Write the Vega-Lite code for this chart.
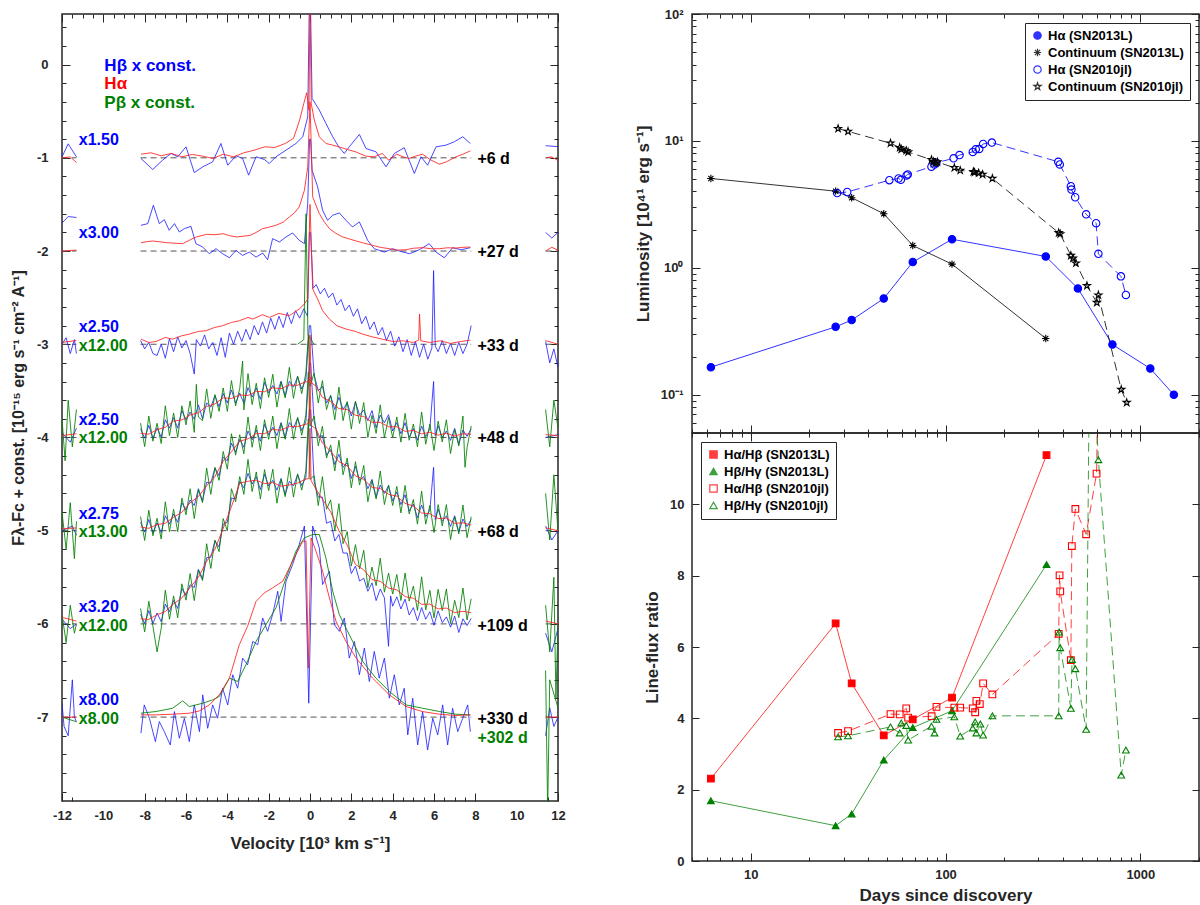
{
"$schema":"https://vega.github.io/schema/vega-lite/v6.json",
"padding":{"left":9,"top":7,"right":0,"bottom":0},
"background":"white",
"config":{
 "view":{"stroke":"#262626","strokeWidth":1.5},
 "axis":{"domain":false,"grid":false,"labelFont":"Liberation Sans","labelFontWeight":"bold","labelFontSize":13,"labelColor":"#262626","titleFont":"Liberation Sans","titleFontWeight":"bold","titleFontSize":17,"titleColor":"#262626","tickColor":"#262626","tickWidth":1,"labelOverlap":false,"labelFlush":false,"labelBound":false},
 "legend":{"labelFont":"Liberation Sans","labelFontWeight":"bold","labelFontSize":13,"labelColor":"#000000","strokeColor":"#262626","fillColor":"white","padding":6,"rowPadding":3,"symbolSize":55,"symbolStrokeWidth":1.2,"labelLimit":300}
},
"datasets":{
"spec":[
{"s":"b6","x":-8.18,"y":-1.007},{"s":"b6","x":-7.61,"y":-1.125},{"s":"b6","x":-7.13,"y":-1.025},{"s":"b6","x":-6.73,"y":-0.953},{"s":"b6","x":-6.4,"y":-0.989},{"s":"b6","x":-6.0,"y":-0.882},{"s":"b6","x":-5.6,"y":-1.158},{"s":"b6","x":-5.19,"y":-1.097},{"s":"b6","x":-4.71,"y":-1.043},{"s":"b6","x":-4.31,"y":-0.846},{"s":"b6","x":-3.98,"y":-1.079},{"s":"b6","x":-3.58,"y":-0.978},{"s":"b6","x":-3.26,"y":-1.007},{"s":"b6","x":-2.97,"y":-1.186},{"s":"b6","x":-2.61,"y":-0.989},{"s":"b6","x":-2.21,"y":-1.018},{"s":"b6","x":-1.97,"y":-1.061},{"s":"b6","x":-1.65,"y":-0.989},{"s":"b6","x":-1.16,"y":-0.918},{"s":"b6","x":-0.68,"y":-0.846},{"s":"b6","x":-0.35,"y":-0.774},{"s":"b6","x":-0.11,"y":-0.559},{"s":"b6","x":-0.03,"y":0.7},{"s":"b6","x":0.02,"y":0.7},{"s":"b6","x":0.1,"y":-0.362},{"s":"b6","x":0.45,"y":-0.487},{"s":"b6","x":0.77,"y":-0.631},{"s":"b6","x":1.1,"y":-0.774},{"s":"b6","x":1.39,"y":-0.882},{"s":"b6","x":1.66,"y":-0.953},{"s":"b6","x":1.9,"y":-0.882},{"s":"b6","x":2.39,"y":-0.749},{"s":"b6","x":2.71,"y":-0.9},{"s":"b6","x":3.19,"y":-0.935},{"s":"b6","x":3.68,"y":-1.097},{"s":"b6","x":4.08,"y":-0.953},{"s":"b6","x":4.56,"y":-0.892},{"s":"b6","x":5.05,"y":-1.168},{"s":"b6","x":5.37,"y":-0.989},{"s":"b6","x":5.69,"y":-1.079},{"s":"b6","x":6.1,"y":-0.882},{"s":"b6","x":6.58,"y":-0.864},{"s":"b6","x":6.98,"y":-0.828},{"s":"b6","x":7.39,"y":-0.774},{"s":"b6","x":7.76,"y":-0.846},
{"s":"r6","x":-8.18,"y":-0.961},{"s":"r6","x":-7.7,"y":-0.946},{"s":"r6","x":-7.2,"y":-0.978},{"s":"r6","x":-6.7,"y":-0.953},{"s":"r6","x":-6.2,"y":-0.989},{"s":"r6","x":-5.7,"y":-0.964},{"s":"r6","x":-5.2,"y":-0.982},{"s":"r6","x":-4.7,"y":-1.007},{"s":"r6","x":-4.2,"y":-0.961},{"s":"r6","x":-3.7,"y":-0.989},{"s":"r6","x":-3.2,"y":-0.946},{"s":"r6","x":-2.7,"y":-0.918},{"s":"r6","x":-2.2,"y":-0.882},{"s":"r6","x":-1.7,"y":-0.889},{"s":"r6","x":-1.2,"y":-0.846},{"s":"r6","x":-0.8,"y":-0.792},{"s":"r6","x":-0.5,"y":-0.595},{"s":"r6","x":-0.3,"y":-0.416},{"s":"r6","x":-0.16,"y":-0.301},{"s":"r6","x":-0.05,"y":-0.49},{"s":"r6","x":0.0,"y":0.7},{"s":"r6","x":0.06,"y":-0.42},{"s":"r6","x":0.21,"y":-0.595},{"s":"r6","x":0.45,"y":-0.774},{"s":"r6","x":0.77,"y":-0.846},{"s":"r6","x":1.1,"y":-0.864},{"s":"r6","x":1.4,"y":-0.882},{"s":"r6","x":1.8,"y":-0.91},{"s":"r6","x":2.2,"y":-0.935},{"s":"r6","x":2.7,"y":-0.982},{"s":"r6","x":3.1,"y":-0.989},{"s":"r6","x":3.5,"y":-0.953},{"s":"r6","x":3.8,"y":-1.025},{"s":"r6","x":4.2,"y":-0.961},{"s":"r6","x":4.5,"y":-0.989},{"s":"r6","x":4.8,"y":-1.007},{"s":"r6","x":5.1,"y":-0.982},{"s":"r6","x":5.45,"y":-0.961},{"s":"r6","x":5.8,"y":-1.018},{"s":"r6","x":6.26,"y":-1.068},{"s":"r6","x":6.6,"y":-1.043},{"s":"r6","x":7.06,"y":-0.989},{"s":"r6","x":7.4,"y":-0.961},{"s":"r6","x":7.76,"y":-0.925},
{"s":"b27","x":-8.18,"y":-1.724},{"s":"b27","x":-7.85,"y":-1.706},{"s":"b27","x":-7.58,"y":-1.509},{"s":"b27","x":-7.29,"y":-1.706},{"s":"b27","x":-7.05,"y":-1.663},{"s":"b27","x":-6.81,"y":-1.778},{"s":"b27","x":-6.56,"y":-1.706},{"s":"b27","x":-6.32,"y":-1.796},{"s":"b27","x":-6.08,"y":-1.76},{"s":"b27","x":-5.76,"y":-1.735},{"s":"b27","x":-5.52,"y":-1.921},{"s":"b27","x":-5.19,"y":-1.957},{"s":"b27","x":-4.87,"y":-2.029},{"s":"b27","x":-4.55,"y":-1.975},{"s":"b27","x":-4.23,"y":-2.029},{"s":"b27","x":-3.9,"y":-2.072},{"s":"b27","x":-3.58,"y":-1.993},{"s":"b27","x":-3.26,"y":-2.047},{"s":"b27","x":-2.94,"y":-2.011},{"s":"b27","x":-2.61,"y":-2.065},{"s":"b27","x":-2.29,"y":-2.022},{"s":"b27","x":-2.05,"y":-2.093},{"s":"b27","x":-1.81,"y":-1.867},{"s":"b27","x":-1.48,"y":-1.903},{"s":"b27","x":-1.16,"y":-1.849},{"s":"b27","x":-0.84,"y":-1.806},{"s":"b27","x":-0.52,"y":-1.885},{"s":"b27","x":-0.27,"y":-1.921},{"s":"b27","x":-0.11,"y":-1.491},{"s":"b27","x":-0.02,"y":-0.8},{"s":"b27","x":0.03,"y":-0.8},{"s":"b27","x":0.1,"y":-1.133},{"s":"b27","x":0.37,"y":-1.312},{"s":"b27","x":0.61,"y":-1.563},{"s":"b27","x":0.85,"y":-1.67},{"s":"b27","x":1.1,"y":-1.616},{"s":"b27","x":1.42,"y":-1.591},{"s":"b27","x":1.74,"y":-1.67},{"s":"b27","x":2.06,"y":-1.742},{"s":"b27","x":2.39,"y":-1.688},{"s":"b27","x":2.79,"y":-1.885},{"s":"b27","x":3.11,"y":-1.975},{"s":"b27","x":3.6,"y":-2.011},{"s":"b27","x":4.0,"y":-1.975},{"s":"b27","x":4.32,"y":-2.0},{"s":"b27","x":4.81,"y":-2.029},{"s":"b27","x":5.29,"y":-1.986},{"s":"b27","x":5.77,"y":-1.921},{"s":"b27","x":6.1,"y":-2.011},{"s":"b27","x":6.5,"y":-2.072},{"s":"b27","x":6.9,"y":-1.964},{"s":"b27","x":7.31,"y":-1.986},{"s":"b27","x":7.76,"y":-1.964},
{"s":"r27","x":-8.18,"y":-1.91},{"s":"r27","x":-7.9,"y":-1.9},{"s":"r27","x":-7.61,"y":-1.892},{"s":"r27","x":-7.3,"y":-1.9},{"s":"r27","x":-6.97,"y":-1.91},{"s":"r27","x":-6.6,"y":-1.915},{"s":"r27","x":-6.16,"y":-1.921},{"s":"r27","x":-5.8,"y":-1.88},{"s":"r27","x":-5.5,"y":-1.849},{"s":"r27","x":-5.0,"y":-1.821},{"s":"r27","x":-4.6,"y":-1.825},{"s":"r27","x":-4.2,"y":-1.814},{"s":"r27","x":-3.9,"y":-1.835},{"s":"r27","x":-3.55,"y":-1.849},{"s":"r27","x":-3.2,"y":-1.84},{"s":"r27","x":-2.9,"y":-1.832},{"s":"r27","x":-2.6,"y":-1.8},{"s":"r27","x":-2.3,"y":-1.76},{"s":"r27","x":-2.0,"y":-1.745},{"s":"r27","x":-1.65,"y":-1.724},{"s":"r27","x":-1.3,"y":-1.69},{"s":"r27","x":-1.0,"y":-1.634},{"s":"r27","x":-0.75,"y":-1.59},{"s":"r27","x":-0.52,"y":-1.527},{"s":"r27","x":-0.27,"y":-1.348},{"s":"r27","x":-0.11,"y":-1.097},{"s":"r27","x":0.0,"y":-0.4},{"s":"r27","x":0.13,"y":-1.419},{"s":"r27","x":0.45,"y":-1.599},{"s":"r27","x":0.7,"y":-1.69},{"s":"r27","x":0.94,"y":-1.76},{"s":"r27","x":1.25,"y":-1.81},{"s":"r27","x":1.58,"y":-1.849},{"s":"r27","x":1.9,"y":-1.87},{"s":"r27","x":2.23,"y":-1.892},{"s":"r27","x":2.6,"y":-1.915},{"s":"r27","x":3.03,"y":-1.939},{"s":"r27","x":3.4,"y":-1.96},{"s":"r27","x":3.84,"y":-1.975},{"s":"r27","x":4.2,"y":-1.99},{"s":"r27","x":4.65,"y":-1.986},{"s":"r27","x":5.0,"y":-1.97},{"s":"r27","x":5.45,"y":-1.964},{"s":"r27","x":5.85,"y":-1.975},{"s":"r27","x":6.26,"y":-1.975},{"s":"r27","x":6.65,"y":-1.965},{"s":"r27","x":7.06,"y":-1.968},{"s":"r27","x":7.4,"y":-1.96},{"s":"r27","x":7.76,"y":-1.957},
{"s":"b33","x":-8.2,"y":-2.96},{"s":"b33","x":-8.0,"y":-3.05},{"s":"b33","x":-7.8,"y":-2.98},{"s":"b33","x":-7.6,"y":-3.1},{"s":"b33","x":-7.4,"y":-3.12},{"s":"b33","x":-7.2,"y":-3.0},{"s":"b33","x":-7.0,"y":-3.15},{"s":"b33","x":-6.8,"y":-2.94},{"s":"b33","x":-6.6,"y":-3.08},{"s":"b33","x":-6.4,"y":-2.92},{"s":"b33","x":-6.2,"y":-3.04},{"s":"b33","x":-6.0,"y":-2.96},{"s":"b33","x":-5.8,"y":-3.1},{"s":"b33","x":-5.6,"y":-3.32},{"s":"b33","x":-5.5,"y":-2.95},{"s":"b33","x":-5.3,"y":-3.02},{"s":"b33","x":-5.1,"y":-2.9},{"s":"b33","x":-4.9,"y":-3.05},{"s":"b33","x":-4.7,"y":-2.98},{"s":"b33","x":-4.5,"y":-3.12},{"s":"b33","x":-4.3,"y":-2.93},{"s":"b33","x":-4.1,"y":-3.14},{"s":"b33","x":-3.9,"y":-2.88},{"s":"b33","x":-3.7,"y":-3.0},{"s":"b33","x":-3.5,"y":-2.86},{"s":"b33","x":-3.3,"y":-2.97},{"s":"b33","x":-3.1,"y":-2.84},{"s":"b33","x":-2.9,"y":-2.95},{"s":"b33","x":-2.7,"y":-2.8},{"s":"b33","x":-2.5,"y":-2.9},{"s":"b33","x":-2.3,"y":-2.76},{"s":"b33","x":-2.1,"y":-2.88},{"s":"b33","x":-1.9,"y":-2.72},{"s":"b33","x":-1.7,"y":-2.84},{"s":"b33","x":-1.5,"y":-2.7},{"s":"b33","x":-1.3,"y":-2.82},{"s":"b33","x":-1.1,"y":-2.66},{"s":"b33","x":-0.9,"y":-2.78},{"s":"b33","x":-0.7,"y":-2.64},{"s":"b33","x":-0.5,"y":-2.72},{"s":"b33","x":-0.3,"y":-2.62},{"s":"b33","x":-0.12,"y":-2.7},{"s":"b33","x":-0.03,"y":-1.8},{"s":"b33","x":0.03,"y":-1.8},{"s":"b33","x":0.15,"y":-2.4},{"s":"b33","x":0.3,"y":-2.36},{"s":"b33","x":0.5,"y":-2.46},{"s":"b33","x":0.7,"y":-2.4},{"s":"b33","x":0.9,"y":-2.5},{"s":"b33","x":1.1,"y":-2.45},{"s":"b33","x":1.3,"y":-2.58},{"s":"b33","x":1.5,"y":-2.52},{"s":"b33","x":1.7,"y":-2.64},{"s":"b33","x":1.9,"y":-2.58},{"s":"b33","x":2.1,"y":-2.7},{"s":"b33","x":2.3,"y":-2.62},{"s":"b33","x":2.5,"y":-2.78},{"s":"b33","x":2.7,"y":-2.7},{"s":"b33","x":2.9,"y":-2.84},{"s":"b33","x":3.1,"y":-2.76},{"s":"b33","x":3.3,"y":-2.9},{"s":"b33","x":3.5,"y":-2.82},{"s":"b33","x":3.7,"y":-2.96},{"s":"b33","x":3.9,"y":-2.86},{"s":"b33","x":4.1,"y":-3.02},{"s":"b33","x":4.3,"y":-2.92},{"s":"b33","x":4.5,"y":-3.08},{"s":"b33","x":4.7,"y":-2.95},{"s":"b33","x":4.9,"y":-3.12},{"s":"b33","x":5.1,"y":-2.97},{"s":"b33","x":5.3,"y":-3.14},{"s":"b33","x":5.5,"y":-3.0},{"s":"b33","x":5.7,"y":-3.16},{"s":"b33","x":5.9,"y":-3.04},{"s":"b33","x":5.98,"y":-2.21},{"s":"b33","x":6.06,"y":-3.02},{"s":"b33","x":6.2,"y":-3.08},{"s":"b33","x":6.4,"y":-2.96},{"s":"b33","x":6.6,"y":-3.1},{"s":"b33","x":6.8,"y":-2.99},{"s":"b33","x":7.0,"y":-3.12},{"s":"b33","x":7.2,"y":-2.98},{"s":"b33","x":7.4,"y":-3.1},{"s":"b33","x":7.6,"y":-3.0},{"s":"b33","x":7.8,"y":-2.8},
{"s":"r33","x":-8.18,"y":-2.945},{"s":"r33","x":-7.8,"y":-2.981},{"s":"r33","x":-7.45,"y":-2.97},{"s":"r33","x":-7.0,"y":-2.927},{"s":"r33","x":-6.65,"y":-2.945},{"s":"r33","x":-6.2,"y":-2.909},{"s":"r33","x":-5.84,"y":-2.891},{"s":"r33","x":-5.4,"y":-2.862},{"s":"r33","x":-5.03,"y":-2.855},{"s":"r33","x":-4.6,"y":-2.819},{"s":"r33","x":-4.23,"y":-2.801},{"s":"r33","x":-3.8,"y":-2.766},{"s":"r33","x":-3.42,"y":-2.748},{"s":"r33","x":-3.0,"y":-2.712},{"s":"r33","x":-2.77,"y":-2.73},{"s":"r33","x":-2.3,"y":-2.683},{"s":"r33","x":-1.96,"y":-2.712},{"s":"r33","x":-1.5,"y":-2.669},{"s":"r33","x":-1.0,"y":-2.694},{"s":"r33","x":-0.52,"y":-2.622},{"s":"r33","x":-0.27,"y":-2.568},{"s":"r33","x":-0.11,"y":-2.515},{"s":"r33","x":0.0,"y":-1.5},{"s":"r33","x":0.13,"y":-2.407},{"s":"r33","x":0.37,"y":-2.515},{"s":"r33","x":0.61,"y":-2.64},{"s":"r33","x":0.94,"y":-2.73},{"s":"r33","x":1.3,"y":-2.801},{"s":"r33","x":1.74,"y":-2.837},{"s":"r33","x":2.2,"y":-2.862},{"s":"r33","x":2.55,"y":-2.891},{"s":"r33","x":3.0,"y":-2.92},{"s":"r33","x":3.5,"y":-2.945},{"s":"r33","x":4.0,"y":-2.97},{"s":"r33","x":4.5,"y":-2.963},{"s":"r33","x":5.0,"y":-2.981},{"s":"r33","x":5.26,"y":-2.956},{"s":"r33","x":5.3,"y":-2.676},{"s":"r33","x":5.36,"y":-2.963},{"s":"r33","x":5.8,"y":-2.981},{"s":"r33","x":6.3,"y":-2.963},{"s":"r33","x":6.8,"y":-2.991},{"s":"r33","x":7.3,"y":-2.97},{"s":"r33","x":7.76,"y":-2.956},
{"s":"g33","x":-0.6,"y":-3.0},{"s":"g33","x":-0.3,"y":-2.95},{"s":"g33","x":-0.19,"y":-1.6},{"s":"g33","x":-0.1,"y":-2.9},{"s":"g33","x":0.2,"y":-3.0},
{"s":"r48","x":-8.2,"y":-3.956},{"s":"r48","x":-7.8,"y":-3.965},{"s":"r48","x":-7.4,"y":-3.916},{"s":"r48","x":-7.0,"y":-3.89},{"s":"r48","x":-6.6,"y":-3.823},{"s":"r48","x":-6.2,"y":-3.812},{"s":"r48","x":-5.8,"y":-3.758},{"s":"r48","x":-5.4,"y":-3.735},{"s":"r48","x":-5.0,"y":-3.667},{"s":"r48","x":-4.6,"y":-3.64},{"s":"r48","x":-4.2,"y":-3.574},{"s":"r48","x":-3.8,"y":-3.582},{"s":"r48","x":-3.4,"y":-3.544},{"s":"r48","x":-3.0,"y":-3.55},{"s":"r48","x":-2.6,"y":-3.506},{"s":"r48","x":-2.2,"y":-3.51},{"s":"r48","x":-1.8,"y":-3.467},{"s":"r48","x":-1.4,"y":-3.477},{"s":"r48","x":-1.0,"y":-3.437},{"s":"r48","x":-0.6,"y":-3.44},{"s":"r48","x":-0.25,"y":-3.405},{"s":"r48","x":-0.05,"y":-3.4},{"s":"r48","x":0.0,"y":-2.9},{"s":"r48","x":0.05,"y":-3.41},{"s":"r48","x":0.3,"y":-3.45},{"s":"r48","x":0.6,"y":-3.57},{"s":"r48","x":1.0,"y":-3.613},{"s":"r48","x":1.4,"y":-3.69},{"s":"r48","x":1.8,"y":-3.7},{"s":"r48","x":2.2,"y":-3.762},{"s":"r48","x":2.6,"y":-3.775},{"s":"r48","x":3.0,"y":-3.837},{"s":"r48","x":3.4,"y":-3.838},{"s":"r48","x":3.8,"y":-3.886},{"s":"r48","x":4.2,"y":-3.885},{"s":"r48","x":4.6,"y":-3.934},{"s":"r48","x":5.0,"y":-3.925},{"s":"r48","x":5.4,"y":-3.962},{"s":"r48","x":5.8,"y":-3.944},{"s":"r48","x":6.2,"y":-3.975},{"s":"r48","x":6.6,"y":-3.955},{"s":"r48","x":7.0,"y":-3.985},{"s":"r48","x":7.4,"y":-3.96},{"s":"r48","x":7.8,"y":-3.966},
{"s":"b48","x":-8.2,"y":-3.906},{"s":"b48","x":-8.0,"y":-4.008},{"s":"b48","x":-7.8,"y":-3.87},{"s":"b48","x":-7.6,"y":-4.01},{"s":"b48","x":-7.4,"y":-3.898},{"s":"b48","x":-7.2,"y":-3.995},{"s":"b48","x":-7.0,"y":-3.81},{"s":"b48","x":-6.8,"y":-3.9},{"s":"b48","x":-6.6,"y":-3.788},{"s":"b48","x":-6.4,"y":-3.9},{"s":"b48","x":-6.2,"y":-3.71},{"s":"b48","x":-6.0,"y":-3.815},{"s":"b48","x":-5.8,"y":-3.728},{"s":"b48","x":-5.6,"y":-3.805},{"s":"b48","x":-5.4,"y":-3.65},{"s":"b48","x":-5.2,"y":-3.8},{"s":"b48","x":-5.0,"y":-3.629},{"s":"b48","x":-4.8,"y":-3.675},{"s":"b48","x":-4.6,"y":-3.55},{"s":"b48","x":-4.4,"y":-3.67},{"s":"b48","x":-4.2,"y":-3.529},{"s":"b48","x":-4.0,"y":-3.63},{"s":"b48","x":-3.8,"y":-3.49},{"s":"b48","x":-3.6,"y":-3.632},{"s":"b48","x":-3.4,"y":-3.524},{"s":"b48","x":-3.2,"y":-3.635},{"s":"b48","x":-3.0,"y":-3.465},{"s":"b48","x":-2.8,"y":-3.567},{"s":"b48","x":-2.6,"y":-3.468},{"s":"b48","x":-2.4,"y":-3.59},{"s":"b48","x":-2.2,"y":-3.41},{"s":"b48","x":-2.0,"y":-3.52},{"s":"b48","x":-1.8,"y":-3.442},{"s":"b48","x":-1.6,"y":-3.534},{"s":"b48","x":-1.4,"y":-3.395},{"s":"b48","x":-1.2,"y":-3.556},{"s":"b48","x":-1.0,"y":-3.397},{"s":"b48","x":-0.8,"y":-3.46},{"s":"b48","x":-0.6,"y":-3.35},{"s":"b48","x":-0.4,"y":-3.48},{"s":"b48","x":-0.2,"y":-3.38},{"s":"b48","x":-0.03,"y":-2.8},{"s":"b48","x":0.03,"y":-2.8},{"s":"b48","x":0.2,"y":-3.33},{"s":"b48","x":0.4,"y":-3.5},{"s":"b48","x":0.6,"y":-3.45},{"s":"b48","x":0.8,"y":-3.63},{"s":"b48","x":1.0,"y":-3.555},{"s":"b48","x":1.2,"y":-3.7},{"s":"b48","x":1.4,"y":-3.57},{"s":"b48","x":1.6,"y":-3.7},{"s":"b48","x":1.8,"y":-3.625},{"s":"b48","x":2.0,"y":-3.77},{"s":"b48","x":2.2,"y":-3.62},{"s":"b48","x":2.4,"y":-3.76},{"s":"b48","x":2.6,"y":-3.705},{"s":"b48","x":2.8,"y":-3.82},{"s":"b48","x":3.0,"y":-3.712},{"s":"b48","x":3.2,"y":-3.896},{"s":"b48","x":3.4,"y":-3.76},{"s":"b48","x":3.6,"y":-3.843},{"s":"b48","x":3.8,"y":-3.756},{"s":"b48","x":4.0,"y":-3.93},{"s":"b48","x":4.2,"y":-3.84},{"s":"b48","x":4.4,"y":-3.96},{"s":"b48","x":4.6,"y":-3.842},{"s":"b48","x":4.8,"y":-4.0},{"s":"b48","x":5.0,"y":-3.905},{"s":"b48","x":5.2,"y":-4.03},{"s":"b48","x":5.4,"y":-3.877},{"s":"b48","x":5.6,"y":-3.992},{"s":"b48","x":5.8,"y":-3.906},{"s":"b48","x":5.98,"y":-3.4},{"s":"b48","x":6.06,"y":-3.98},{"s":"b48","x":6.2,"y":-3.875},{"s":"b48","x":6.4,"y":-3.998},{"s":"b48","x":6.6,"y":-3.93},{"s":"b48","x":6.8,"y":-4.032},{"s":"b48","x":7.0,"y":-3.903},{"s":"b48","x":7.2,"y":-4.072},{"s":"b48","x":7.4,"y":-3.92},{"s":"b48","x":7.6,"y":-3.988},{"s":"b48","x":7.8,"y":-3.906},
{"s":"g48","x":-8.2,"y":-3.846},{"s":"g48","x":-8.0,"y":-4.098},{"s":"g48","x":-7.8,"y":-3.77},{"s":"g48","x":-7.6,"y":-4.04},{"s":"g48","x":-7.4,"y":-3.848},{"s":"g48","x":-7.2,"y":-4.065},{"s":"g48","x":-7.0,"y":-3.66},{"s":"g48","x":-6.8,"y":-3.98},{"s":"g48","x":-6.6,"y":-3.738},{"s":"g48","x":-6.4,"y":-4.0},{"s":"g48","x":-6.2,"y":-3.66},{"s":"g48","x":-6.0,"y":-3.865},{"s":"g48","x":-5.8,"y":-3.608},{"s":"g48","x":-5.6,"y":-3.945},{"s":"g48","x":-5.5,"y":-3.43},{"s":"g48","x":-5.4,"y":-3.78},{"s":"g48","x":-5.2,"y":-3.82},{"s":"g48","x":-5.0,"y":-3.479},{"s":"g48","x":-4.8,"y":-3.795},{"s":"g48","x":-4.6,"y":-3.54},{"s":"g48","x":-4.4,"y":-3.72},{"s":"g48","x":-4.2,"y":-3.469},{"s":"g48","x":-4.0,"y":-3.72},{"s":"g48","x":-3.8,"y":-3.39},{"s":"g48","x":-3.6,"y":-3.662},{"s":"g48","x":-3.4,"y":-3.474},{"s":"g48","x":-3.26,"y":-3.18},{"s":"g48","x":-3.2,"y":-3.705},{"s":"g48","x":-3.0,"y":-3.315},{"s":"g48","x":-2.8,"y":-3.647},{"s":"g48","x":-2.6,"y":-3.418},{"s":"g48","x":-2.4,"y":-3.69},{"s":"g48","x":-2.2,"y":-3.36},{"s":"g48","x":-2.0,"y":-3.57},{"s":"g48","x":-1.8,"y":-3.322},{"s":"g48","x":-1.6,"y":-3.674},{"s":"g48","x":-1.4,"y":-3.405},{"s":"g48","x":-1.2,"y":-3.576},{"s":"g48","x":-1.0,"y":-3.247},{"s":"g48","x":-0.8,"y":-3.58},{"s":"g48","x":-0.6,"y":-3.34},{"s":"g48","x":-0.4,"y":-3.53},{"s":"g48","x":-0.2,"y":-3.31},{"s":"g48","x":-0.08,"y":-2.9},{"s":"g48","x":0.0,"y":-3.45},{"s":"g48","x":0.2,"y":-3.31},{"s":"g48","x":0.4,"y":-3.63},{"s":"g48","x":0.6,"y":-3.39},{"s":"g48","x":0.8,"y":-3.7},{"s":"g48","x":1.0,"y":-3.545},{"s":"g48","x":1.2,"y":-3.81},{"s":"g48","x":1.4,"y":-3.46},{"s":"g48","x":1.6,"y":-3.82},{"s":"g48","x":1.8,"y":-3.615},{"s":"g48","x":2.0,"y":-3.91},{"s":"g48","x":2.2,"y":-3.61},{"s":"g48","x":2.4,"y":-3.85},{"s":"g48","x":2.6,"y":-3.625},{"s":"g48","x":2.8,"y":-4.0},{"s":"g48","x":3.0,"y":-3.762},{"s":"g48","x":3.2,"y":-3.956},{"s":"g48","x":3.4,"y":-3.65},{"s":"g48","x":3.6,"y":-4.003},{"s":"g48","x":3.8,"y":-3.786},{"s":"g48","x":4.0,"y":-4.0},{"s":"g48","x":4.2,"y":-3.78},{"s":"g48","x":4.4,"y":-4.05},{"s":"g48","x":4.6,"y":-3.742},{"s":"g48","x":4.8,"y":-4.03},{"s":"g48","x":5.0,"y":-3.855},{"s":"g48","x":5.2,"y":-4.1},{"s":"g48","x":5.4,"y":-3.727},{"s":"g48","x":5.6,"y":-4.072},{"s":"g48","x":5.8,"y":-3.856},{"s":"g48","x":6.0,"y":-4.14},{"s":"g48","x":6.2,"y":-3.825},{"s":"g48","x":6.4,"y":-4.048},{"s":"g48","x":6.6,"y":-3.81},{"s":"g48","x":6.8,"y":-4.172},{"s":"g48","x":7.0,"y":-3.913},{"s":"g48","x":7.2,"y":-4.092},{"s":"g48","x":7.4,"y":-3.77},{"s":"g48","x":7.5,"y":-4.32},{"s":"g48","x":7.6,"y":-4.108},{"s":"g48","x":7.8,"y":-3.876},
{"s":"r68","x":-8.2,"y":-4.96},{"s":"r68","x":-7.8,"y":-4.975},{"s":"r68","x":-7.4,"y":-4.935},{"s":"r68","x":-7.0,"y":-4.92},{"s":"r68","x":-6.6,"y":-4.855},{"s":"r68","x":-6.2,"y":-4.802},{"s":"r68","x":-5.8,"y":-4.7},{"s":"r68","x":-5.4,"y":-4.635},{"s":"r68","x":-5.0,"y":-4.518},{"s":"r68","x":-4.6,"y":-4.42},{"s":"r68","x":-4.2,"y":-4.255},{"s":"r68","x":-3.8,"y":-4.152},{"s":"r68","x":-3.4,"y":-4.04},{"s":"r68","x":-3.0,"y":-4.015},{"s":"r68","x":-2.6,"y":-3.958},{"s":"r68","x":-2.2,"y":-3.96},{"s":"r68","x":-1.8,"y":-3.915},{"s":"r68","x":-1.4,"y":-3.922},{"s":"r68","x":-1.0,"y":-3.88},{"s":"r68","x":-0.6,"y":-3.883},{"s":"r68","x":-0.25,"y":-3.86},{"s":"r68","x":-0.05,"y":-3.85},{"s":"r68","x":0.0,"y":-3.35},{"s":"r68","x":0.05,"y":-3.87},{"s":"r68","x":0.3,"y":-3.91},{"s":"r68","x":0.6,"y":-4.06},{"s":"r68","x":1.0,"y":-4.148},{"s":"r68","x":1.4,"y":-4.26},{"s":"r68","x":1.8,"y":-4.305},{"s":"r68","x":2.2,"y":-4.412},{"s":"r68","x":2.6,"y":-4.45},{"s":"r68","x":3.0,"y":-4.535},{"s":"r68","x":3.4,"y":-4.548},{"s":"r68","x":3.8,"y":-4.61},{"s":"r68","x":4.2,"y":-4.63},{"s":"r68","x":4.6,"y":-4.707},{"s":"r68","x":5.0,"y":-4.735},{"s":"r68","x":5.4,"y":-4.81},{"s":"r68","x":5.8,"y":-4.818},{"s":"r68","x":6.2,"y":-4.87},{"s":"r68","x":6.6,"y":-4.865},{"s":"r68","x":7.0,"y":-4.922},{"s":"r68","x":7.4,"y":-4.915},{"s":"r68","x":7.8,"y":-4.94},
{"s":"b68","x":-8.2,"y":-4.91},{"s":"b68","x":-8.0,"y":-5.015},{"s":"b68","x":-7.8,"y":-4.88},{"s":"b68","x":-7.6,"y":-5.025},{"s":"b68","x":-7.4,"y":-4.917},{"s":"b68","x":-7.2,"y":-5.02},{"s":"b68","x":-7.0,"y":-4.84},{"s":"b68","x":-6.8,"y":-4.93},{"s":"b68","x":-6.6,"y":-4.82},{"s":"b68","x":-6.4,"y":-4.91},{"s":"b68","x":-6.2,"y":-4.7},{"s":"b68","x":-6.0,"y":-4.78},{"s":"b68","x":-5.8,"y":-4.67},{"s":"b68","x":-5.6,"y":-4.73},{"s":"b68","x":-5.4,"y":-4.55},{"s":"b68","x":-5.2,"y":-4.68},{"s":"b68","x":-5.0,"y":-4.48},{"s":"b68","x":-4.8,"y":-4.49},{"s":"b68","x":-4.6,"y":-4.33},{"s":"b68","x":-4.4,"y":-4.41},{"s":"b68","x":-4.2,"y":-4.21},{"s":"b68","x":-4.0,"y":-4.25},{"s":"b68","x":-3.8,"y":-4.06},{"s":"b68","x":-3.6,"y":-4.16},{"s":"b68","x":-3.4,"y":-4.02},{"s":"b68","x":-3.2,"y":-4.105},{"s":"b68","x":-3.0,"y":-3.93},{"s":"b68","x":-2.8,"y":-4.025},{"s":"b68","x":-2.6,"y":-3.92},{"s":"b68","x":-2.4,"y":-4.04},{"s":"b68","x":-2.2,"y":-3.86},{"s":"b68","x":-2.0,"y":-3.97},{"s":"b68","x":-1.8,"y":-3.89},{"s":"b68","x":-1.6,"y":-3.98},{"s":"b68","x":-1.4,"y":-3.84},{"s":"b68","x":-1.2,"y":-4.0},{"s":"b68","x":-1.0,"y":-3.84},{"s":"b68","x":-0.8,"y":-3.9},{"s":"b68","x":-0.6,"y":-3.793},{"s":"b68","x":-0.4,"y":-3.926},{"s":"b68","x":-0.2,"y":-3.83},{"s":"b68","x":-0.03,"y":-3.2},{"s":"b68","x":0.03,"y":-3.2},{"s":"b68","x":0.2,"y":-3.83},{"s":"b68","x":0.4,"y":-4.0},{"s":"b68","x":0.6,"y":-3.98},{"s":"b68","x":0.8,"y":-4.19},{"s":"b68","x":1.0,"y":-4.13},{"s":"b68","x":1.2,"y":-4.29},{"s":"b68","x":1.4,"y":-4.18},{"s":"b68","x":1.6,"y":-4.32},{"s":"b68","x":1.8,"y":-4.27},{"s":"b68","x":2.0,"y":-4.44},{"s":"b68","x":2.2,"y":-4.31},{"s":"b68","x":2.4,"y":-4.46},{"s":"b68","x":2.6,"y":-4.42},{"s":"b68","x":2.8,"y":-4.55},{"s":"b68","x":3.0,"y":-4.45},{"s":"b68","x":3.2,"y":-4.64},{"s":"b68","x":3.4,"y":-4.51},{"s":"b68","x":3.6,"y":-4.6},{"s":"b68","x":3.8,"y":-4.52},{"s":"b68","x":4.0,"y":-4.68},{"s":"b68","x":4.2,"y":-4.585},{"s":"b68","x":4.4,"y":-4.72},{"s":"b68","x":4.6,"y":-4.615},{"s":"b68","x":4.8,"y":-4.79},{"s":"b68","x":5.0,"y":-4.715},{"s":"b68","x":5.2,"y":-4.86},{"s":"b68","x":5.4,"y":-4.725},{"s":"b68","x":5.6,"y":-4.85},{"s":"b68","x":5.8,"y":-4.78},{"s":"b68","x":5.98,"y":-4.32},{"s":"b68","x":6.06,"y":-4.88},{"s":"b68","x":6.2,"y":-4.77},{"s":"b68","x":6.4,"y":-4.9},{"s":"b68","x":6.6,"y":-4.84},{"s":"b68","x":6.8,"y":-4.955},{"s":"b68","x":7.0,"y":-4.84},{"s":"b68","x":7.2,"y":-5.015},{"s":"b68","x":7.4,"y":-4.875},{"s":"b68","x":7.6,"y":-4.955},{"s":"b68","x":7.8,"y":-4.88},
{"s":"g68","x":-8.2,"y":-4.85},{"s":"g68","x":-8.0,"y":-5.105},{"s":"g68","x":-7.8,"y":-4.78},{"s":"g68","x":-7.6,"y":-5.055},{"s":"g68","x":-7.4,"y":-4.867},{"s":"g68","x":-7.2,"y":-5.09},{"s":"g68","x":-7.0,"y":-4.69},{"s":"g68","x":-6.8,"y":-5.01},{"s":"g68","x":-6.6,"y":-4.77},{"s":"g68","x":-6.4,"y":-5.01},{"s":"g68","x":-6.2,"y":-4.65},{"s":"g68","x":-6.0,"y":-4.83},{"s":"g68","x":-5.8,"y":-4.55},{"s":"g68","x":-5.6,"y":-4.87},{"s":"g68","x":-5.4,"y":-4.56},{"s":"g68","x":-5.2,"y":-4.7},{"s":"g68","x":-5.0,"y":-4.33},{"s":"g68","x":-4.8,"y":-4.61},{"s":"g68","x":-4.6,"y":-4.32},{"s":"g68","x":-4.4,"y":-4.46},{"s":"g68","x":-4.2,"y":-4.15},{"s":"g68","x":-4.0,"y":-4.34},{"s":"g68","x":-3.8,"y":-3.96},{"s":"g68","x":-3.6,"y":-4.19},{"s":"g68","x":-3.4,"y":-3.97},{"s":"g68","x":-3.2,"y":-4.175},{"s":"g68","x":-3.0,"y":-3.78},{"s":"g68","x":-2.8,"y":-4.105},{"s":"g68","x":-2.6,"y":-3.87},{"s":"g68","x":-2.4,"y":-4.14},{"s":"g68","x":-2.2,"y":-3.81},{"s":"g68","x":-2.0,"y":-4.02},{"s":"g68","x":-1.8,"y":-3.77},{"s":"g68","x":-1.6,"y":-4.12},{"s":"g68","x":-1.4,"y":-3.85},{"s":"g68","x":-1.2,"y":-4.02},{"s":"g68","x":-1.0,"y":-3.69},{"s":"g68","x":-0.8,"y":-4.02},{"s":"g68","x":-0.6,"y":-3.783},{"s":"g68","x":-0.4,"y":-3.976},{"s":"g68","x":-0.2,"y":-3.76},{"s":"g68","x":-0.08,"y":-3.3},{"s":"g68","x":0.0,"y":-3.88},{"s":"g68","x":0.2,"y":-3.77},{"s":"g68","x":0.4,"y":-4.09},{"s":"g68","x":0.6,"y":-3.88},{"s":"g68","x":0.8,"y":-4.22},{"s":"g68","x":1.0,"y":-4.08},{"s":"g68","x":1.2,"y":-4.36},{"s":"g68","x":1.4,"y":-4.03},{"s":"g68","x":1.6,"y":-4.4},{"s":"g68","x":1.8,"y":-4.22},{"s":"g68","x":2.0,"y":-4.54},{"s":"g68","x":2.2,"y":-4.26},{"s":"g68","x":2.4,"y":-4.51},{"s":"g68","x":2.6,"y":-4.3},{"s":"g68","x":2.8,"y":-4.69},{"s":"g68","x":3.0,"y":-4.46},{"s":"g68","x":3.2,"y":-4.66},{"s":"g68","x":3.4,"y":-4.36},{"s":"g68","x":3.6,"y":-4.72},{"s":"g68","x":3.8,"y":-4.51},{"s":"g68","x":4.0,"y":-4.73},{"s":"g68","x":4.2,"y":-4.525},{"s":"g68","x":4.4,"y":-4.81},{"s":"g68","x":4.6,"y":-4.515},{"s":"g68","x":4.8,"y":-4.82},{"s":"g68","x":5.0,"y":-4.665},{"s":"g68","x":5.2,"y":-4.93},{"s":"g68","x":5.4,"y":-4.575},{"s":"g68","x":5.6,"y":-4.93},{"s":"g68","x":5.8,"y":-4.73},{"s":"g68","x":6.0,"y":-5.02},{"s":"g68","x":6.2,"y":-4.72},{"s":"g68","x":6.4,"y":-4.95},{"s":"g68","x":6.6,"y":-4.72},{"s":"g68","x":6.8,"y":-5.095},{"s":"g68","x":7.0,"y":-4.85},{"s":"g68","x":7.2,"y":-5.035},{"s":"g68","x":7.4,"y":-4.725},{"s":"g68","x":7.6,"y":-5.075},{"s":"g68","x":7.8,"y":-4.85},
{"s":"r109","x":-8.2,"y":-5.945},{"s":"r109","x":-7.8,"y":-5.952},{"s":"r109","x":-7.4,"y":-5.901},{"s":"r109","x":-7.0,"y":-5.868},{"s":"r109","x":-6.6,"y":-5.785},{"s":"r109","x":-6.2,"y":-5.722},{"s":"r109","x":-5.8,"y":-5.61},{"s":"r109","x":-5.4,"y":-5.5},{"s":"r109","x":-5.0,"y":-5.328},{"s":"r109","x":-4.6,"y":-5.2},{"s":"r109","x":-4.2,"y":-4.975},{"s":"r109","x":-3.8,"y":-4.742},{"s":"r109","x":-3.4,"y":-4.49},{"s":"r109","x":-3.0,"y":-4.47},{"s":"r109","x":-2.6,"y":-4.458},{"s":"r109","x":-2.2,"y":-4.495},{"s":"r109","x":-1.8,"y":-4.485},{"s":"r109","x":-1.4,"y":-4.522},{"s":"r109","x":-1.0,"y":-4.51},{"s":"r109","x":-0.6,"y":-4.49},{"s":"r109","x":-0.25,"y":-4.45},{"s":"r109","x":-0.05,"y":-4.44},{"s":"r109","x":0.0,"y":-3.9},{"s":"r109","x":0.05,"y":-4.46},{"s":"r109","x":0.3,"y":-4.56},{"s":"r109","x":0.6,"y":-4.66},{"s":"r109","x":1.0,"y":-4.798},{"s":"r109","x":1.4,"y":-5.0},{"s":"r109","x":1.8,"y":-5.155},{"s":"r109","x":2.2,"y":-5.362},{"s":"r109","x":2.6,"y":-5.42},{"s":"r109","x":3.0,"y":-5.525},{"s":"r109","x":3.4,"y":-5.543},{"s":"r109","x":3.8,"y":-5.615},{"s":"r109","x":4.2,"y":-5.635},{"s":"r109","x":4.6,"y":-5.707},{"s":"r109","x":5.0,"y":-5.725},{"s":"r109","x":5.4,"y":-5.79},{"s":"r109","x":5.8,"y":-5.788},{"s":"r109","x":6.2,"y":-5.84},{"s":"r109","x":6.6,"y":-5.83},{"s":"r109","x":7.0,"y":-5.879},{"s":"r109","x":7.4,"y":-5.865},{"s":"r109","x":7.8,"y":-5.88},
{"s":"b109","x":-8.2,"y":-5.895},{"s":"b109","x":-8.0,"y":-5.996},{"s":"b109","x":-7.8,"y":-5.857},{"s":"b109","x":-7.6,"y":-5.997},{"s":"b109","x":-7.4,"y":-5.883},{"s":"b109","x":-7.2,"y":-5.976},{"s":"b109","x":-7.0,"y":-5.788},{"s":"b109","x":-6.8,"y":-5.87},{"s":"b109","x":-6.6,"y":-5.75},{"s":"b109","x":-6.4,"y":-5.835},{"s":"b109","x":-6.2,"y":-5.62},{"s":"b109","x":-6.0,"y":-5.695},{"s":"b109","x":-5.8,"y":-5.58},{"s":"b109","x":-5.6,"y":-5.61},{"s":"b109","x":-5.4,"y":-5.415},{"s":"b109","x":-5.2,"y":-5.515},{"s":"b109","x":-5.0,"y":-5.29},{"s":"b109","x":-4.8,"y":-5.285},{"s":"b109","x":-4.6,"y":-5.11},{"s":"b109","x":-4.4,"y":-5.175},{"s":"b109","x":-4.2,"y":-4.93},{"s":"b109","x":-4.0,"y":-4.91},{"s":"b109","x":-3.8,"y":-4.65},{"s":"b109","x":-3.6,"y":-4.66},{"s":"b109","x":-3.4,"y":-4.47},{"s":"b109","x":-3.2,"y":-4.54},{"s":"b109","x":-3.0,"y":-4.385},{"s":"b109","x":-2.8,"y":-4.5},{"s":"b109","x":-2.6,"y":-4.42},{"s":"b109","x":-2.4,"y":-4.56},{"s":"b109","x":-2.2,"y":-4.395},{"s":"b109","x":-2.0,"y":-4.52},{"s":"b109","x":-1.8,"y":-4.46},{"s":"b109","x":-1.6,"y":-4.565},{"s":"b109","x":-1.4,"y":-4.44},{"s":"b109","x":-1.2,"y":-4.615},{"s":"b109","x":-1.0,"y":-4.47},{"s":"b109","x":-0.8,"y":-4.52},{"s":"b109","x":-0.6,"y":-4.4},{"s":"b109","x":-0.4,"y":-4.515},{"s":"b109","x":-0.2,"y":-4.43},{"s":"b109","x":-0.03,"y":-3.7},{"s":"b109","x":0.03,"y":-3.7},{"s":"b109","x":0.2,"y":-4.47},{"s":"b109","x":0.4,"y":-4.64},{"s":"b109","x":0.6,"y":-4.64},{"s":"b109","x":0.8,"y":-4.92},{"s":"b109","x":1.0,"y":-4.9},{"s":"b109","x":1.2,"y":-5.11},{"s":"b109","x":1.4,"y":-5.04},{"s":"b109","x":1.6,"y":-5.24},{"s":"b109","x":1.8,"y":-5.24},{"s":"b109","x":2.0,"y":-5.46},{"s":"b109","x":2.2,"y":-5.38},{"s":"b109","x":2.4,"y":-5.54},{"s":"b109","x":2.6,"y":-5.51},{"s":"b109","x":2.8,"y":-5.65},{"s":"b109","x":3.0,"y":-5.56},{"s":"b109","x":3.2,"y":-5.75},{"s":"b109","x":3.4,"y":-5.625},{"s":"b109","x":3.6,"y":-5.72},{"s":"b109","x":3.8,"y":-6.24},{"s":"b109","x":3.9,"y":-5.7},{"s":"b109","x":4.0,"y":-5.81},{"s":"b109","x":4.2,"y":-5.71},{"s":"b109","x":4.4,"y":-5.84},{"s":"b109","x":4.6,"y":-5.735},{"s":"b109","x":4.8,"y":-5.905},{"s":"b109","x":5.0,"y":-5.825},{"s":"b109","x":5.2,"y":-5.965},{"s":"b109","x":5.4,"y":-5.825},{"s":"b109","x":5.6,"y":-5.95},{"s":"b109","x":5.8,"y":-5.87},{"s":"b109","x":6.0,"y":-6.015},{"s":"b109","x":6.2,"y":-5.86},{"s":"b109","x":6.4,"y":-5.987},{"s":"b109","x":6.6,"y":-5.925},{"s":"b109","x":6.8,"y":-6.035},{"s":"b109","x":7.0,"y":-5.917},{"s":"b109","x":7.2,"y":-6.092},{"s":"b109","x":7.4,"y":-5.945},{"s":"b109","x":7.6,"y":-6.018},{"s":"b109","x":7.8,"y":-5.94},
{"s":"g109","x":-8.2,"y":-5.835},{"s":"g109","x":-8.0,"y":-6.086},{"s":"g109","x":-7.8,"y":-5.757},{"s":"g109","x":-7.6,"y":-6.027},{"s":"g109","x":-7.4,"y":-6.3},{"s":"g109","x":-7.2,"y":-6.046},{"s":"g109","x":-7.0,"y":-5.638},{"s":"g109","x":-6.8,"y":-5.95},{"s":"g109","x":-6.6,"y":-5.7},{"s":"g109","x":-6.4,"y":-5.935},{"s":"g109","x":-6.2,"y":-5.57},{"s":"g109","x":-6.0,"y":-5.745},{"s":"g109","x":-5.8,"y":-5.46},{"s":"g109","x":-5.6,"y":-5.75},{"s":"g109","x":-5.4,"y":-5.425},{"s":"g109","x":-5.2,"y":-5.535},{"s":"g109","x":-5.0,"y":-5.14},{"s":"g109","x":-4.8,"y":-5.405},{"s":"g109","x":-4.6,"y":-5.1},{"s":"g109","x":-4.4,"y":-5.225},{"s":"g109","x":-4.2,"y":-4.87},{"s":"g109","x":-4.0,"y":-5.0},{"s":"g109","x":-3.8,"y":-4.55},{"s":"g109","x":-3.6,"y":-4.69},{"s":"g109","x":-3.4,"y":-4.42},{"s":"g109","x":-3.2,"y":-4.61},{"s":"g109","x":-3.0,"y":-4.235},{"s":"g109","x":-2.8,"y":-4.58},{"s":"g109","x":-2.6,"y":-4.37},{"s":"g109","x":-2.4,"y":-4.66},{"s":"g109","x":-2.2,"y":-4.345},{"s":"g109","x":-2.0,"y":-4.57},{"s":"g109","x":-1.8,"y":-4.34},{"s":"g109","x":-1.6,"y":-4.705},{"s":"g109","x":-1.4,"y":-4.45},{"s":"g109","x":-1.2,"y":-4.635},{"s":"g109","x":-1.0,"y":-4.32},{"s":"g109","x":-0.8,"y":-4.64},{"s":"g109","x":-0.6,"y":-4.39},{"s":"g109","x":-0.4,"y":-4.565},{"s":"g109","x":-0.2,"y":-4.36},{"s":"g109","x":-0.08,"y":-3.8},{"s":"g109","x":0.0,"y":-4.45},{"s":"g109","x":0.2,"y":-4.41},{"s":"g109","x":0.4,"y":-4.73},{"s":"g109","x":0.6,"y":-4.42},{"s":"g109","x":0.8,"y":-4.77},{"s":"g109","x":1.0,"y":-4.67},{"s":"g109","x":1.2,"y":-5.0},{"s":"g109","x":1.4,"y":-4.71},{"s":"g109","x":1.6,"y":-5.14},{"s":"g109","x":1.8,"y":-5.01},{"s":"g109","x":2.0,"y":-5.38},{"s":"g109","x":2.2,"y":-5.15},{"s":"g109","x":2.4,"y":-5.41},{"s":"g109","x":2.6,"y":-5.21},{"s":"g109","x":2.8,"y":-5.61},{"s":"g109","x":3.0,"y":-5.39},{"s":"g109","x":3.2,"y":-5.59},{"s":"g109","x":3.4,"y":-5.295},{"s":"g109","x":3.6,"y":-5.66},{"s":"g109","x":3.8,"y":-5.455},{"s":"g109","x":4.0,"y":-5.68},{"s":"g109","x":4.2,"y":-5.47},{"s":"g109","x":4.4,"y":-5.75},{"s":"g109","x":4.6,"y":-5.455},{"s":"g109","x":4.8,"y":-5.755},{"s":"g109","x":5.0,"y":-5.595},{"s":"g109","x":5.2,"y":-5.855},{"s":"g109","x":5.4,"y":-5.495},{"s":"g109","x":5.6,"y":-5.85},{"s":"g109","x":5.8,"y":-5.64},{"s":"g109","x":6.0,"y":-5.935},{"s":"g109","x":6.2,"y":-5.63},{"s":"g109","x":6.4,"y":-5.857},{"s":"g109","x":6.6,"y":-5.625},{"s":"g109","x":6.8,"y":-5.995},{"s":"g109","x":7.0,"y":-5.747},{"s":"g109","x":7.2,"y":-5.932},{"s":"g109","x":7.4,"y":-5.615},{"s":"g109","x":7.6,"y":-5.958},{"s":"g109","x":7.8,"y":-5.73},
{"s":"r330","x":-8.18,"y":-6.976},{"s":"r330","x":-7.45,"y":-6.976},{"s":"r330","x":-6.65,"y":-6.969},{"s":"r330","x":-5.84,"y":-6.958},{"s":"r330","x":-5.35,"y":-6.933},{"s":"r330","x":-4.87,"y":-6.869},{"s":"r330","x":-4.39,"y":-6.761},{"s":"r330","x":-3.9,"y":-6.582},{"s":"r330","x":-3.42,"y":-6.224},{"s":"r330","x":-3.02,"y":-6.026},{"s":"r330","x":-2.61,"y":-5.758},{"s":"r330","x":-2.21,"y":-5.668},{"s":"r330","x":-1.81,"y":-5.614},{"s":"r330","x":-1.32,"y":-5.543},{"s":"r330","x":-1.0,"y":-5.399},{"s":"r330","x":-0.68,"y":-5.256},{"s":"r330","x":-0.35,"y":-5.113},{"s":"r330","x":-0.19,"y":-5.113},{"s":"r330","x":-0.08,"y":-6.475},{"s":"r330","x":0.05,"y":-5.077},{"s":"r330","x":0.29,"y":-5.22},{"s":"r330","x":0.61,"y":-5.435},{"s":"r330","x":0.94,"y":-5.722},{"s":"r330","x":1.26,"y":-5.973},{"s":"r330","x":1.74,"y":-6.188},{"s":"r330","x":2.23,"y":-6.367},{"s":"r330","x":3.03,"y":-6.582},{"s":"r330","x":3.84,"y":-6.761},{"s":"r330","x":4.65,"y":-6.887},{"s":"r330","x":5.45,"y":-6.941},{"s":"r330","x":6.26,"y":-6.969},{"s":"r330","x":7.06,"y":-6.983},{"s":"r330","x":7.76,"y":-6.976},
{"s":"g330","x":-8.18,"y":-6.958},{"s":"g330","x":-7.45,"y":-6.94},{"s":"g330","x":-6.65,"y":-6.905},{"s":"g330","x":-6.16,"y":-6.826},{"s":"g330","x":-5.84,"y":-6.887},{"s":"g330","x":-5.19,"y":-6.851},{"s":"g330","x":-4.71,"y":-6.815},{"s":"g330","x":-4.39,"y":-6.779},{"s":"g330","x":-3.9,"y":-6.582},{"s":"g330","x":-3.5,"y":-6.618},{"s":"g330","x":-3.1,"y":-6.439},{"s":"g330","x":-2.61,"y":-6.188},{"s":"g330","x":-2.13,"y":-6.009},{"s":"g330","x":-1.65,"y":-5.829},{"s":"g330","x":-1.16,"y":-5.507},{"s":"g330","x":-0.68,"y":-5.22},{"s":"g330","x":-0.27,"y":-5.077},{"s":"g330","x":0.13,"y":-5.041},{"s":"g330","x":0.45,"y":-5.041},{"s":"g330","x":0.77,"y":-5.292},{"s":"g330","x":1.1,"y":-5.65},{"s":"g330","x":1.42,"y":-5.901},{"s":"g330","x":1.9,"y":-6.116},{"s":"g330","x":2.55,"y":-6.403},{"s":"g330","x":3.19,"y":-6.582},{"s":"g330","x":3.84,"y":-6.725},{"s":"g330","x":4.65,"y":-6.869},{"s":"g330","x":5.45,"y":-6.905},{"s":"g330","x":6.26,"y":-6.94},{"s":"g330","x":7.06,"y":-6.969},{"s":"g330","x":7.76,"y":-6.976},
{"s":"b330","x":-8.18,"y":-7.173},{"s":"b330","x":-8.02,"y":-6.869},{"s":"b330","x":-7.77,"y":-7.012},{"s":"b330","x":-7.48,"y":-7.263},{"s":"b330","x":-7.29,"y":-7.048},{"s":"b330","x":-7.05,"y":-7.156},{"s":"b330","x":-6.76,"y":-7.299},{"s":"b330","x":-6.56,"y":-6.941},{"s":"b330","x":-6.32,"y":-7.227},{"s":"b330","x":-6.08,"y":-7.012},{"s":"b330","x":-5.84,"y":-7.263},{"s":"b330","x":-5.6,"y":-6.869},{"s":"b330","x":-5.35,"y":-7.156},{"s":"b330","x":-5.19,"y":-6.761},{"s":"b330","x":-4.95,"y":-7.12},{"s":"b330","x":-4.71,"y":-6.869},{"s":"b330","x":-4.47,"y":-7.012},{"s":"b330","x":-4.23,"y":-6.69},{"s":"b330","x":-3.98,"y":-6.869},{"s":"b330","x":-3.74,"y":-6.546},{"s":"b330","x":-3.5,"y":-6.69},{"s":"b330","x":-3.26,"y":-6.367},{"s":"b330","x":-3.02,"y":-6.439},{"s":"b330","x":-2.77,"y":-6.188},{"s":"b330","x":-2.53,"y":-6.224},{"s":"b330","x":-2.29,"y":-5.937},{"s":"b330","x":-2.05,"y":-6.08},{"s":"b330","x":-1.81,"y":-5.901},{"s":"b330","x":-1.56,"y":-5.65},{"s":"b330","x":-1.4,"y":-5.973},{"s":"b330","x":-1.16,"y":-5.543},{"s":"b330","x":-0.84,"y":-5.363},{"s":"b330","x":-0.52,"y":-5.148},{"s":"b330","x":-0.27,"y":-4.95},{"s":"b330","x":-0.06,"y":-6.851},{"s":"b330","x":0.13,"y":-4.95},{"s":"b330","x":0.45,"y":-5.184},{"s":"b330","x":0.61,"y":-5.578},{"s":"b330","x":0.94,"y":-5.435},{"s":"b330","x":1.18,"y":-6.009},{"s":"b330","x":1.42,"y":-6.08},{"s":"b330","x":1.66,"y":-5.937},{"s":"b330","x":1.9,"y":-6.367},{"s":"b330","x":2.15,"y":-6.188},{"s":"b330","x":2.39,"y":-6.546},{"s":"b330","x":2.63,"y":-6.259},{"s":"b330","x":2.87,"y":-6.618},{"s":"b330","x":3.11,"y":-6.295},{"s":"b330","x":3.35,"y":-6.582},{"s":"b330","x":3.6,"y":-6.367},{"s":"b330","x":3.84,"y":-6.797},{"s":"b330","x":4.08,"y":-6.546},{"s":"b330","x":4.32,"y":-6.869},{"s":"b330","x":4.56,"y":-6.69},{"s":"b330","x":4.73,"y":-7.191},{"s":"b330","x":4.97,"y":-6.797},{"s":"b330","x":5.21,"y":-7.299},{"s":"b330","x":5.45,"y":-6.941},{"s":"b330","x":5.69,"y":-7.353},{"s":"b330","x":5.94,"y":-7.012},{"s":"b330","x":6.18,"y":-7.191},{"s":"b330","x":6.42,"y":-6.869},{"s":"b330","x":6.66,"y":-7.299},{"s":"b330","x":6.9,"y":-6.905},{"s":"b330","x":7.15,"y":-7.156},{"s":"b330","x":7.39,"y":-7.012},{"s":"b330","x":7.63,"y":-6.869},{"s":"b330","x":7.76,"y":-7.156},
{"s":"b6L","x":-12,"y":-0.99},{"s":"b6L","x":-11.7,"y":-0.85},{"s":"b6L","x":-11.3,"y":-0.99},
{"s":"r6L","x":-12,"y":-1.0},{"s":"r6L","x":-11.6,"y":-0.99},{"s":"r6L","x":-11.3,"y":-1.05},
{"s":"b6R","x":11.4,"y":-0.87},{"s":"b6R","x":12,"y":-0.88},
{"s":"r6R","x":11.4,"y":-1.0},{"s":"r6R","x":11.7,"y":-0.99},{"s":"r6R","x":12,"y":-1.03},
{"s":"b27L","x":-12,"y":-1.7},{"s":"b27L","x":-11.7,"y":-1.63},{"s":"b27L","x":-11.3,"y":-1.64},
{"s":"r27L","x":-12,"y":-2.0},{"s":"r27L","x":-11.3,"y":-1.99},
{"s":"b27R","x":11.4,"y":-1.8},{"s":"b27R","x":11.7,"y":-1.86},{"s":"b27R","x":12,"y":-1.8},
{"s":"r27R","x":11.4,"y":-2.0},{"s":"r27R","x":11.7,"y":-1.96},{"s":"r27R","x":12,"y":-1.99},
{"s":"b33L","x":-12,"y":-3.0},{"s":"b33L","x":-11.8,"y":-2.93},{"s":"b33L","x":-11.6,"y":-3.1},{"s":"b33L","x":-11.4,"y":-2.95},{"s":"b33L","x":-11.3,"y":-3.1},
{"s":"r33L","x":-12,"y":-2.98},{"s":"r33L","x":-11.3,"y":-2.96},
{"s":"b33R","x":11.4,"y":-2.97},{"s":"b33R","x":11.6,"y":-3.2},{"s":"b33R","x":11.8,"y":-3.05},{"s":"b33R","x":12,"y":-3.25},
{"s":"r33R","x":11.4,"y":-2.96},{"s":"r33R","x":12,"y":-3.0},
{"s":"b48L","x":-12,"y":-3.95},{"s":"b48L","x":-11.6,"y":-4.05},{"s":"b48L","x":-11.3,"y":-3.9},
{"s":"r48L","x":-12,"y":-3.98},{"s":"r48L","x":-11.3,"y":-3.96},
{"s":"g48L","x":-12,"y":-3.8},{"s":"g48L","x":-11.85,"y":-4.25},{"s":"g48L","x":-11.7,"y":-3.6},{"s":"g48L","x":-11.5,"y":-4.1},{"s":"g48L","x":-11.3,"y":-3.7},
{"s":"g48R","x":11.4,"y":-3.7},{"s":"g48R","x":11.6,"y":-4.1},{"s":"g48R","x":11.8,"y":-3.6},{"s":"g48R","x":12,"y":-3.9},
{"s":"b48R","x":11.4,"y":-4.0},{"s":"b48R","x":12,"y":-3.97},
{"s":"r48R","x":11.4,"y":-3.97},{"s":"r48R","x":12,"y":-3.98},
{"s":"g68L","x":-12,"y":-4.8},{"s":"g68L","x":-11.8,"y":-5.2},{"s":"g68L","x":-11.6,"y":-4.7},{"s":"g68L","x":-11.4,"y":-5.3},{"s":"g68L","x":-11.3,"y":-4.9},
{"s":"b68L","x":-12,"y":-5.0},{"s":"b68L","x":-11.5,"y":-4.95},{"s":"b68L","x":-11.3,"y":-5.05},
{"s":"r68L","x":-12,"y":-4.98},{"s":"r68L","x":-11.3,"y":-4.97},
{"s":"g68R","x":11.4,"y":-4.6},{"s":"g68R","x":11.6,"y":-5.1},{"s":"g68R","x":11.8,"y":-4.4},{"s":"g68R","x":12,"y":-5.0},
{"s":"b68R","x":11.4,"y":-4.95},{"s":"b68R","x":11.7,"y":-5.1},{"s":"b68R","x":12,"y":-5.0},
{"s":"r68R","x":11.4,"y":-4.97},{"s":"r68R","x":12,"y":-5.0},
{"s":"g109L","x":-12,"y":-5.9},{"s":"g109L","x":-11.8,"y":-6.2},{"s":"g109L","x":-11.6,"y":-5.8},{"s":"g109L","x":-11.4,"y":-6.1},{"s":"g109L","x":-11.3,"y":-6.0},
{"s":"b109L","x":-12,"y":-5.95},{"s":"b109L","x":-11.6,"y":-6.05},{"s":"b109L","x":-11.3,"y":-6.0},
{"s":"r109L","x":-12,"y":-5.93},{"s":"r109L","x":-11.3,"y":-5.97},
{"s":"g109R","x":11.4,"y":-5.8},{"s":"g109R","x":11.6,"y":-6.3},{"s":"g109R","x":11.8,"y":-5.5},{"s":"g109R","x":11.9,"y":-6.8},{"s":"g109R","x":12,"y":-6.0},
{"s":"b109R","x":11.4,"y":-6.1},{"s":"b109R","x":11.7,"y":-6.3},{"s":"b109R","x":12,"y":-6.05},
{"s":"r109R","x":11.4,"y":-5.97},{"s":"r109R","x":12,"y":-6.0},
{"s":"b330L","x":-12,"y":-6.85},{"s":"b330L","x":-11.9,"y":-7.1},{"s":"b330L","x":-11.7,"y":-7.2},{"s":"b330L","x":-11.5,"y":-6.6},{"s":"b330L","x":-11.4,"y":-7.0},{"s":"b330L","x":-11.3,"y":-7.05},
{"s":"r330L","x":-12,"y":-7.0},{"s":"r330L","x":-11.3,"y":-7.0},
{"s":"g330L","x":-12,"y":-7.0},{"s":"g330L","x":-11.3,"y":-7.05},
{"s":"b330R","x":11.4,"y":-7.2},{"s":"b330R","x":11.6,"y":-6.9},{"s":"b330R","x":11.8,"y":-7.1},{"s":"b330R","x":12,"y":-7.0},
{"s":"r330R","x":11.4,"y":-7.0},{"s":"r330R","x":12,"y":-7.0},
{"s":"g330R","x":11.4,"y":-6.5},{"s":"g330R","x":11.5,"y":-8.0},{"s":"g330R","x":11.6,"y":-6.6},{"s":"g330R","x":12,"y":-6.9}
],
"dash":[
{"s":"d1","x":-8.2,"y":-1},{"s":"d1","x":7.8,"y":-1},{"s":"d1L","x":-12,"y":-1},{"s":"d1L","x":-11.3,"y":-1},{"s":"d1R","x":11.4,"y":-1},{"s":"d1R","x":12,"y":-1},
{"s":"d2","x":-8.2,"y":-2},{"s":"d2","x":7.8,"y":-2},{"s":"d2L","x":-12,"y":-2},{"s":"d2L","x":-11.3,"y":-2},{"s":"d2R","x":11.4,"y":-2},{"s":"d2R","x":12,"y":-2},
{"s":"d3","x":-8.2,"y":-3},{"s":"d3","x":7.8,"y":-3},{"s":"d3L","x":-12,"y":-3},{"s":"d3L","x":-11.3,"y":-3},{"s":"d3R","x":11.4,"y":-3},{"s":"d3R","x":12,"y":-3},
{"s":"d4","x":-8.2,"y":-4},{"s":"d4","x":7.8,"y":-4},{"s":"d4L","x":-12,"y":-4},{"s":"d4L","x":-11.3,"y":-4},{"s":"d4R","x":11.4,"y":-4},{"s":"d4R","x":12,"y":-4},
{"s":"d5","x":-8.2,"y":-5},{"s":"d5","x":7.8,"y":-5},{"s":"d5L","x":-12,"y":-5},{"s":"d5L","x":-11.3,"y":-5},{"s":"d5R","x":11.4,"y":-5},{"s":"d5R","x":12,"y":-5},
{"s":"d6","x":-8.2,"y":-6},{"s":"d6","x":7.8,"y":-6},{"s":"d6L","x":-12,"y":-6},{"s":"d6L","x":-11.3,"y":-6},{"s":"d6R","x":11.4,"y":-6},{"s":"d6R","x":12,"y":-6},
{"s":"d7","x":-8.2,"y":-7},{"s":"d7","x":7.8,"y":-7},{"s":"d7L","x":-12,"y":-7},{"s":"d7L","x":-11.3,"y":-7},{"s":"d7R","x":11.4,"y":-7},{"s":"d7R","x":12,"y":-7}
],
"lbl":[
{"t":"Hβ x const.","x":-9.95,"y":-0.01,"c":"b","k":"leg"},
{"t":"Hα","x":-9.95,"y":-0.21,"c":"r","k":"leg"},
{"t":"Pβ  x const.","x":-9.95,"y":-0.41,"c":"g","k":"leg"},
{"t":"x1.50","x":-11.19,"y":-0.81,"c":"b","k":"lab"},
{"t":"x3.00","x":-11.19,"y":-1.81,"c":"b","k":"lab"},
{"t":"x2.50","x":-11.19,"y":-2.82,"c":"b","k":"lab"},
{"t":"x12.00","x":-11.19,"y":-3.02,"c":"g","k":"lab"},
{"t":"x2.50","x":-11.19,"y":-3.81,"c":"b","k":"lab"},
{"t":"x12.00","x":-11.19,"y":-4.01,"c":"g","k":"lab"},
{"t":"x2.75","x":-11.19,"y":-4.82,"c":"b","k":"lab"},
{"t":"x13.00","x":-11.19,"y":-5.01,"c":"g","k":"lab"},
{"t":"x3.20","x":-11.19,"y":-5.82,"c":"b","k":"lab"},
{"t":"x12.00","x":-11.19,"y":-6.02,"c":"g","k":"lab"},
{"t":"x8.00","x":-11.19,"y":-6.82,"c":"b","k":"lab"},
{"t":"x8.00","x":-11.19,"y":-7.02,"c":"g","k":"lab"},
{"t":"+6 d","x":8.1,"y":-1.01,"c":"k","k":"lab"},
{"t":"+27 d","x":8.1,"y":-2.01,"c":"k","k":"lab"},
{"t":"+33 d","x":8.1,"y":-3.02,"c":"k","k":"lab"},
{"t":"+48 d","x":8.1,"y":-4.01,"c":"k","k":"lab"},
{"t":"+68 d","x":8.1,"y":-5.01,"c":"k","k":"lab"},
{"t":"+109 d","x":8.1,"y":-6.02,"c":"k","k":"lab"},
{"t":"+330 d","x":8.1,"y":-7.02,"c":"k","k":"lab"},
{"t":"+302 d","x":8.1,"y":-7.22,"c":"g","k":"lab"}
],
"lum":[
{"ser":"Hα (SN2013L)","d":6.25,"L":0.165},{"ser":"Hα (SN2013L)","d":27.3,"L":0.343},{"ser":"Hα (SN2013L)","d":33.0,"L":0.388},{"ser":"Hα (SN2013L)","d":48.2,"L":0.573},{"ser":"Hα (SN2013L)","d":67.9,"L":1.11},{"ser":"Hα (SN2013L)","d":108,"L":1.68},{"ser":"Hα (SN2013L)","d":327,"L":1.23},{"ser":"Hα (SN2013L)","d":478,"L":0.689},{"ser":"Hα (SN2013L)","d":719,"L":0.249},{"ser":"Hα (SN2013L)","d":1125,"L":0.161},{"ser":"Hα (SN2013L)","d":1486,"L":0.1},
{"ser":"Continuum (SN2013L)","d":6.25,"L":5.06},{"ser":"Continuum (SN2013L)","d":27.3,"L":4.02},{"ser":"Continuum (SN2013L)","d":33.0,"L":3.57},{"ser":"Continuum (SN2013L)","d":48.2,"L":2.67},{"ser":"Continuum (SN2013L)","d":67.9,"L":1.5},{"ser":"Continuum (SN2013L)","d":108,"L":1.07},{"ser":"Continuum (SN2013L)","d":327,"L":0.278},
{"ser":"Hα (SN2010jl)","d":27.8,"L":3.89},{"ser":"Hα (SN2010jl)","d":31.3,"L":3.96},{"ser":"Hα (SN2010jl)","d":51.5,"L":4.91},{"ser":"Hα (SN2010jl)","d":57.4,"L":5.06},{"ser":"Hα (SN2010jl)","d":59.0,"L":4.94},{"ser":"Hα (SN2010jl)","d":63.1,"L":5.35},{"ser":"Hα (SN2010jl)","d":64.0,"L":5.45},{"ser":"Hα (SN2010jl)","d":84.7,"L":6.27},{"ser":"Hα (SN2010jl)","d":87.8,"L":6.53},{"ser":"Hα (SN2010jl)","d":89.8,"L":6.73},{"ser":"Hα (SN2010jl)","d":110,"L":7.29},{"ser":"Hα (SN2010jl)","d":118,"L":7.74},{"ser":"Hα (SN2010jl)","d":138,"L":8.19},{"ser":"Hα (SN2010jl)","d":143,"L":8.59},{"ser":"Hα (SN2010jl)","d":149,"L":8.65},{"ser":"Hα (SN2010jl)","d":156,"L":9.47},{"ser":"Hα (SN2010jl)","d":173,"L":9.7},{"ser":"Hα (SN2010jl)","d":379,"L":6.85},{"ser":"Hα (SN2010jl)","d":386,"L":6.53},{"ser":"Hα (SN2010jl)","d":440,"L":4.4},{"ser":"Hα (SN2010jl)","d":443,"L":4.14},{"ser":"Hα (SN2010jl)","d":463,"L":3.6},{"ser":"Hα (SN2010jl)","d":527,"L":2.64},{"ser":"Hα (SN2010jl)","d":593,"L":2.25},{"ser":"Hα (SN2010jl)","d":609,"L":1.29},{"ser":"Hα (SN2010jl)","d":795,"L":0.857},{"ser":"Hα (SN2010jl)","d":843,"L":0.612},
{"ser":"Continuum (SN2010jl)","d":28.1,"L":12.5},{"ser":"Continuum (SN2010jl)","d":31.6,"L":11.9},{"ser":"Continuum (SN2010jl)","d":52.2,"L":9.59},{"ser":"Continuum (SN2010jl)","d":58.2,"L":8.86},{"ser":"Continuum (SN2010jl)","d":59.3,"L":8.59},{"ser":"Continuum (SN2010jl)","d":62.9,"L":8.38},{"ser":"Continuum (SN2010jl)","d":64.3,"L":8.18},{"ser":"Continuum (SN2010jl)","d":84.7,"L":7.11},{"ser":"Continuum (SN2010jl)","d":86.6,"L":6.85},{"ser":"Continuum (SN2010jl)","d":88.9,"L":6.69},{"ser":"Continuum (SN2010jl)","d":90.9,"L":6.82},{"ser":"Continuum (SN2010jl)","d":111,"L":6.15},{"ser":"Continuum (SN2010jl)","d":119,"L":5.86},{"ser":"Continuum (SN2010jl)","d":139,"L":5.72},{"ser":"Continuum (SN2010jl)","d":141,"L":5.65},{"ser":"Continuum (SN2010jl)","d":148,"L":5.58},{"ser":"Continuum (SN2010jl)","d":155,"L":5.44},{"ser":"Continuum (SN2010jl)","d":174,"L":5.06},{"ser":"Continuum (SN2010jl)","d":381,"L":1.89},{"ser":"Continuum (SN2010jl)","d":388,"L":1.85},{"ser":"Continuum (SN2010jl)","d":440,"L":1.25},{"ser":"Continuum (SN2010jl)","d":451,"L":1.19},{"ser":"Continuum (SN2010jl)","d":467,"L":1.09},{"ser":"Continuum (SN2010jl)","d":532,"L":0.723},{"ser":"Continuum (SN2010jl)","d":598,"L":0.533},{"ser":"Continuum (SN2010jl)","d":609,"L":0.61},{"ser":"Continuum (SN2010jl)","d":798,"L":0.11},{"ser":"Continuum (SN2010jl)","d":851,"L":0.0869}
],
"rat":[
{"ser":"Hα/Hβ (SN2013L)","d":6.25,"r":2.31},{"ser":"Hα/Hβ (SN2013L)","d":27.3,"r":6.66},{"ser":"Hα/Hβ (SN2013L)","d":33.0,"r":4.98},{"ser":"Hα/Hβ (SN2013L)","d":48.2,"r":3.52},{"ser":"Hα/Hβ (SN2013L)","d":67.9,"r":3.97},{"ser":"Hα/Hβ (SN2013L)","d":108,"r":4.58},{"ser":"Hα/Hβ (SN2013L)","d":330,"r":11.38},
{"ser":"Hβ/Hγ (SN2013L)","d":6.25,"r":1.69},{"ser":"Hβ/Hγ (SN2013L)","d":27.3,"r":0.99},{"ser":"Hβ/Hγ (SN2013L)","d":33.0,"r":1.32},{"ser":"Hβ/Hγ (SN2013L)","d":48.2,"r":2.83},{"ser":"Hβ/Hγ (SN2013L)","d":67.9,"r":3.74},{"ser":"Hβ/Hγ (SN2013L)","d":108,"r":4.21},{"ser":"Hβ/Hγ (SN2013L)","d":330,"r":8.31},
{"ser":"Hα/Hβ (SN2010jl)","d":28.1,"r":3.59},{"ser":"Hα/Hβ (SN2010jl)","d":31.6,"r":3.64},{"ser":"Hα/Hβ (SN2010jl)","d":52.2,"r":4.12},{"ser":"Hα/Hβ (SN2010jl)","d":58.2,"r":4.11},{"ser":"Hα/Hβ (SN2010jl)","d":62.9,"r":4.28},{"ser":"Hα/Hβ (SN2010jl)","d":64.3,"r":4.02},{"ser":"Hα/Hβ (SN2010jl)","d":84.9,"r":4.06},{"ser":"Hα/Hβ (SN2010jl)","d":89.9,"r":4.32},{"ser":"Hα/Hβ (SN2010jl)","d":111,"r":4.3},{"ser":"Hα/Hβ (SN2010jl)","d":119,"r":4.3},{"ser":"Hα/Hβ (SN2010jl)","d":138,"r":4.28},{"ser":"Hα/Hβ (SN2010jl)","d":142,"r":4.17},{"ser":"Hα/Hβ (SN2010jl)","d":144,"r":4.49},{"ser":"Hα/Hβ (SN2010jl)","d":150,"r":4.4},{"ser":"Hα/Hβ (SN2010jl)","d":156,"r":4.98},{"ser":"Hα/Hβ (SN2010jl)","d":174,"r":4.67},{"ser":"Hα/Hβ (SN2010jl)","d":381,"r":6.37},{"ser":"Hα/Hβ (SN2010jl)","d":385,"r":8.01},{"ser":"Hα/Hβ (SN2010jl)","d":388,"r":7.56},{"ser":"Hα/Hβ (SN2010jl)","d":440,"r":5.63},{"ser":"Hα/Hβ (SN2010jl)","d":445,"r":8.83},{"ser":"Hα/Hβ (SN2010jl)","d":464,"r":9.87},{"ser":"Hα/Hβ (SN2010jl)","d":527,"r":9.16},{"ser":"Hα/Hβ (SN2010jl)","d":596,"r":10.86},{"ser":"Hα/Hβ (SN2010jl)","d":609,"r":14},
{"ser":"Hβ/Hγ (SN2010jl)","d":28.1,"r":3.48},{"ser":"Hβ/Hγ (SN2010jl)","d":31.6,"r":3.51},{"ser":"Hβ/Hγ (SN2010jl)","d":52.2,"r":3.76},{"ser":"Hβ/Hγ (SN2010jl)","d":58.2,"r":3.59},{"ser":"Hβ/Hγ (SN2010jl)","d":59.3,"r":3.87},{"ser":"Hβ/Hγ (SN2010jl)","d":62.9,"r":3.8},{"ser":"Hβ/Hγ (SN2010jl)","d":64.3,"r":3.39},{"ser":"Hβ/Hγ (SN2010jl)","d":84.7,"r":3.78},{"ser":"Hβ/Hγ (SN2010jl)","d":87.8,"r":3.59},{"ser":"Hβ/Hγ (SN2010jl)","d":89.9,"r":3.97},{"ser":"Hβ/Hγ (SN2010jl)","d":111,"r":4.04},{"ser":"Hβ/Hγ (SN2010jl)","d":119,"r":3.5},{"ser":"Hβ/Hγ (SN2010jl)","d":138,"r":3.73},{"ser":"Hβ/Hγ (SN2010jl)","d":142,"r":3.9},{"ser":"Hβ/Hγ (SN2010jl)","d":144,"r":3.59},{"ser":"Hβ/Hγ (SN2010jl)","d":151,"r":3.84},{"ser":"Hβ/Hγ (SN2010jl)","d":156,"r":3.53},{"ser":"Hβ/Hγ (SN2010jl)","d":174,"r":4.07},{"ser":"Hβ/Hγ (SN2010jl)","d":381,"r":4.07},{"ser":"Hβ/Hγ (SN2010jl)","d":383,"r":6.42},{"ser":"Hβ/Hγ (SN2010jl)","d":388,"r":5.98},{"ser":"Hβ/Hγ (SN2010jl)","d":440,"r":4.28},{"ser":"Hβ/Hγ (SN2010jl)","d":446,"r":5.65},{"ser":"Hβ/Hγ (SN2010jl)","d":464,"r":5.39},{"ser":"Hβ/Hγ (SN2010jl)","d":527,"r":3.69},{"ser":"Hβ/Hγ (SN2010jl)","d":552,"r":16},{"ser":"Hβ/Hγ (SN2010jl)","d":609,"r":11.25},{"ser":"Hβ/Hγ (SN2010jl)","d":798,"r":2.41},{"ser":"Hβ/Hγ (SN2010jl)","d":843,"r":3.11}
]
},
"spacing":134,
"bounds":"flush",
"resolve":{"scale":{"color":"independent","shape":"independent","fill":"independent","stroke":"independent"}},
"hconcat":[
{"width":496,"height":787,
 "layer":[
  {"data":{"name":"dash"},"mark":{"type":"line","color":"#555555","strokeWidth":1,"strokeDash":[6,4],"clip":true},
   "encoding":{
    "x":{"field":"x","type":"quantitative","scale":{"domain":[-12,12],"nice":false},"axis":{"orient":"bottom","values":[-12,-11.5,-10,-8,-7.5,-7,-6.5,-6,-5.5,-5,-4.5,-4,-3.5,-3,-2.5,-2,-1.5,-1,-0.5,0,0.5,1,1.5,2,2.5,3,3.5,4,4.5,5,5.5,6,6.5,7,7.5,8,10,11.5,12],"labelExpr":"datum.value%2===0?toString(datum.value):''","tickSize":{"condition":{"test":"datum.value%2===0","value":-8},"value":-4},"tickOpacity":{"condition":{"test":"abs(datum.value)===10","value":0},"value":1},"labelPadding":16,"title":"Velocity [10³ km s⁻¹]","titlePadding":9}},
    "y":{"field":"y","type":"quantitative","scale":{"domain":[-7.9,0.543],"nice":false,"zero":false},"axis":{"orient":"left","values":[-7.8,-7.6,-7.4,-7.2,-7,-6.8,-6.6,-6.4,-6.2,-6,-5.8,-5.6,-5.4,-5.2,-5,-4.8,-4.6,-4.4,-4.2,-4,-3.8,-3.6,-3.4,-3.2,-3,-2.8,-2.6,-2.4,-2.2,-2,-1.8,-1.6,-1.4,-1.2,-1,-0.8,-0.6,-0.4,-0.2,0,0.2,0.4],"labelExpr":"abs(datum.value-round(datum.value))<0.01?toString(round(datum.value)):''","tickSize":{"condition":{"test":"abs(datum.value-round(datum.value))<0.01","value":-8},"value":-4},"labelPadding":22,"title":"Fλ-Fc + const. [10⁻¹⁵ erg s⁻¹ cm⁻² A⁻¹]","titleFontSize":16,"titlePadding":10}},
    "detail":{"field":"s"}}},
  {"data":{"name":"spec"},"transform":[{"filter":"substring(datum.s,0,1)==='b'"}],"mark":{"type":"line","color":"#1a1aff","strokeWidth":1,"opacity":0.8,"clip":true},
   "encoding":{"x":{"field":"x","type":"quantitative","scale":{"domain":[-12,12],"nice":false},"axis":null},"y":{"field":"y","type":"quantitative","scale":{"domain":[-7.9,0.543],"nice":false,"zero":false},"axis":null},"detail":{"field":"s"}}},
  {"data":{"name":"spec"},"transform":[{"filter":"substring(datum.s,0,1)==='g'"}],"mark":{"type":"line","color":"#008000","strokeWidth":1,"opacity":0.85,"clip":true},
   "encoding":{"x":{"field":"x","type":"quantitative","scale":{"domain":[-12,12],"nice":false},"axis":null},"y":{"field":"y","type":"quantitative","scale":{"domain":[-7.9,0.543],"nice":false,"zero":false},"axis":null},"detail":{"field":"s"}}},
  {"data":{"name":"spec"},"transform":[{"filter":"substring(datum.s,0,1)==='r'"}],"mark":{"type":"line","color":"#ff2020","strokeWidth":1,"opacity":0.85,"clip":true},
   "encoding":{"x":{"field":"x","type":"quantitative","scale":{"domain":[-12,12],"nice":false},"axis":null},"y":{"field":"y","type":"quantitative","scale":{"domain":[-7.9,0.543],"nice":false,"zero":false},"axis":null},"detail":{"field":"s"}}},
  {"data":{"name":"lbl"},"transform":[{"filter":"datum.k==='lab'"}],"mark":{"type":"text","align":"left","baseline":"middle","font":"Liberation Sans","fontWeight":"bold","fontSize":16},
   "encoding":{"x":{"field":"x","type":"quantitative","scale":{"domain":[-12,12],"nice":false},"axis":null},"y":{"field":"y","type":"quantitative","scale":{"domain":[-7.9,0.543],"nice":false,"zero":false},"axis":null},"text":{"field":"t"},"color":{"field":"c","type":"nominal","scale":{"domain":["b","r","g","k"],"range":["#0000ff","#ff0000","#008000","#000000"]},"legend":null}}},
  {"data":{"name":"lbl"},"transform":[{"filter":"datum.k==='leg'"}],"mark":{"type":"text","align":"left","baseline":"middle","font":"Liberation Sans","fontWeight":"bold","fontSize":17},
   "encoding":{"x":{"field":"x","type":"quantitative","scale":{"domain":[-12,12],"nice":false},"axis":null},"y":{"field":"y","type":"quantitative","scale":{"domain":[-7.9,0.543],"nice":false,"zero":false},"axis":null},"text":{"field":"t"},"color":{"field":"c","type":"nominal","scale":{"domain":["b","r","g","k"],"range":["#0000ff","#ff0000","#008000","#000000"]},"legend":null}}},
  {"data":{"values":[{"x":0,"y":0}]},"mark":{"type":"point","opacity":0},
   "encoding":{
    "x":{"field":"x","type":"quantitative","scale":{"domain":[-12,12],"nice":false},"axis":{"orient":"top","values":[-12,-11.5,-11,-10.5,-10,-9.5,-9,-8.5,-8,-7.5,-7,-6.5,-6,-5.5,-5,-4.5,-4,-3.5,-3,-2.5,-2,-1.5,-1,-0.5,0,0.5,1,1.5,2,2.5,3,3.5,4,4.5,5,5.5,6,6.5,7,7.5,8,8.5,9,9.5,10,10.5,11,11.5,12],"labels":false,"title":null,"tickSize":{"condition":{"test":"datum.value%2===0","value":-8},"value":-4}}},
    "y":{"field":"y","type":"quantitative","scale":{"domain":[-7.9,0.543],"nice":false,"zero":false},"axis":{"orient":"right","values":[-7.8,-7.6,-7.4,-7.2,-7,-6.8,-6.6,-6.4,-6.2,-6,-5.8,-5.6,-5.4,-5.2,-5,-4.8,-4.6,-4.4,-4.2,-4,-3.8,-3.6,-3.4,-3.2,-3,-2.8,-2.6,-2.4,-2.2,-2,-1.8,-1.6,-1.4,-1.2,-1,-0.8,-0.6,-0.4,-0.2,0,0.2,0.4],"labels":false,"title":null,"tickSize":{"condition":{"test":"abs(datum.value-round(datum.value))<0.01","value":-8},"value":-4}}}}}
 ],
 "resolve":{"axis":{"x":"independent","y":"independent"}}
},
{"vconcat":[
 {"width":507,"height":419,
  "layer":[
   {"data":{"name":"lum"},"transform":[{"filter":"indexof(datum.ser,'2013L')>=0"}],"mark":{"type":"line","strokeWidth":1,"clip":true,"opacity":0.8},
    "encoding":{
     "x":{"field":"d","type":"quantitative","scale":{"type":"log","domain":[5,2000],"nice":false},"axis":{"orient":"bottom","values":[5,6,7,8,9,10,20,30,40,50,60,70,80,90,100,200,300,400,500,600,700,800,900,1000,2000],"labels":false,"title":null,"tickSize":{"condition":{"test":"abs(log(datum.value)/LN10-round(log(datum.value)/LN10))<0.001","value":-8},"value":-4}}},
     "y":{"field":"L","type":"quantitative","scale":{"type":"log","domain":[0.05,100],"nice":false},"axis":{"orient":"left","values":[0.05,0.06,0.07,0.08,0.09,0.1,0.2,0.3,0.4,0.5,0.6,0.7,0.8,0.9,1,2,3,4,5,6,7,8,9,10,20,30,40,50,60,70,80,90,100],"labelExpr":"datum.value===100?'10²':datum.value===10?'10¹':datum.value===1?'10⁰':datum.value===0.1?'10⁻¹':''","tickSize":{"condition":{"test":"abs(log(datum.value)/LN10-round(log(datum.value)/LN10))<0.001","value":-8},"value":-4},"labelPadding":17,"title":"Luminosity [10⁴¹ erg s⁻¹]","titlePadding":8}},
     "stroke":{"field":"ser","type":"nominal","scale":{"domain":["Hα (SN2013L)","Continuum (SN2013L)","Hα (SN2010jl)","Continuum (SN2010jl)"],"range":["#0000ff","#000000","#0000ff","#000000"]},"legend":{"title":null,"orient":"top-right","offset":9}}}},
   {"data":{"name":"lum"},"transform":[{"filter":"indexof(datum.ser,'2010jl')>=0"}],"mark":{"type":"line","strokeWidth":1,"clip":true,"opacity":0.8,"strokeDash":[9,5]},
    "encoding":{
     "x":{"field":"d","type":"quantitative","scale":{"type":"log","domain":[5,2000],"nice":false},"axis":null},
     "y":{"field":"L","type":"quantitative","scale":{"type":"log","domain":[0.05,100],"nice":false},"axis":null},
     "stroke":{"field":"ser","type":"nominal","scale":{"domain":["Hα (SN2013L)","Continuum (SN2013L)","Hα (SN2010jl)","Continuum (SN2010jl)"],"range":["#0000ff","#000000","#0000ff","#000000"]},"legend":{"title":null,"orient":"top-right","offset":9}}}},
   {"data":{"name":"lum"},"mark":{"type":"point","size":55,"strokeWidth":1.1,"opacity":1,"clip":true},
    "encoding":{
     "x":{"field":"d","type":"quantitative","scale":{"type":"log","domain":[5,2000],"nice":false},"axis":null},
     "y":{"field":"L","type":"quantitative","scale":{"type":"log","domain":[0.05,100],"nice":false},"axis":null},
     "shape":{"field":"ser","type":"nominal","scale":{"domain":["Hα (SN2013L)","Continuum (SN2013L)","Hα (SN2010jl)","Continuum (SN2010jl)"],"range":["circle","M0,-1L0,1M-1,0L1,0M-0.7,-0.7L0.7,0.7M-0.7,0.7L0.7,-0.7","circle","M0,-1L0.2245,-0.309L0.9511,-0.309L0.3633,0.118L0.5878,0.809L0,0.382L-0.5878,0.809L-0.3633,0.118L-0.9511,-0.309L-0.2245,-0.309Z"]},"legend":{"title":null,"orient":"top-right","offset":9}},
     "fill":{"field":"ser","type":"nominal","scale":{"domain":["Hα (SN2013L)","Continuum (SN2013L)","Hα (SN2010jl)","Continuum (SN2010jl)"],"range":["#0000ff","transparent","transparent","transparent"]},"legend":{"title":null,"orient":"top-right","offset":9}},
     "stroke":{"field":"ser","type":"nominal","scale":{"domain":["Hα (SN2013L)","Continuum (SN2013L)","Hα (SN2010jl)","Continuum (SN2010jl)"],"range":["#0000ff","#000000","#0000ff","#000000"]},"legend":{"title":null,"orient":"top-right","offset":9}}}},
   {"data":{"values":[{"d":100,"L":1}]},"mark":{"type":"point","opacity":0},
    "encoding":{
     "x":{"field":"d","type":"quantitative","scale":{"type":"log","domain":[5,2000],"nice":false},"axis":{"orient":"top","values":[5,6,7,8,9,10,20,30,40,50,60,70,80,90,100,200,300,400,500,600,700,800,900,1000,2000],"labels":false,"title":null,"tickSize":{"condition":{"test":"abs(log(datum.value)/LN10-round(log(datum.value)/LN10))<0.001","value":-8},"value":-4}}},
     "y":{"field":"L","type":"quantitative","scale":{"type":"log","domain":[0.05,100],"nice":false},"axis":{"orient":"right","values":[0.05,0.06,0.07,0.08,0.09,0.1,0.2,0.3,0.4,0.5,0.6,0.7,0.8,0.9,1,2,3,4,5,6,7,8,9,10,20,30,40,50,60,70,80,90,100],"labels":false,"title":null,"tickSize":{"condition":{"test":"abs(log(datum.value)/LN10-round(log(datum.value)/LN10))<0.001","value":-8},"value":-4}}}}}
  ],
  "resolve":{"axis":{"x":"independent","y":"independent"}}
 },
 {"width":507,"height":428,
  "layer":[
   {"data":{"name":"rat"},"transform":[{"filter":"indexof(datum.ser,'2013L')>=0"}],"mark":{"type":"line","strokeWidth":1,"clip":true,"opacity":0.75},
    "encoding":{
     "x":{"field":"d","type":"quantitative","scale":{"type":"log","domain":[5,2000],"nice":false},"axis":{"orient":"bottom","values":[5,6,7,8,9,10,20,30,40,50,60,70,80,90,100,200,300,400,500,600,700,800,900,1000,2000],"labelExpr":"abs(log(datum.value)/LN10-round(log(datum.value)/LN10))<0.001?toString(datum.value):''","tickSize":{"condition":{"test":"abs(log(datum.value)/LN10-round(log(datum.value)/LN10))<0.001","value":-8},"value":-4},"labelPadding":15,"title":"Days since discovery","titlePadding":2}},
     "y":{"field":"r","type":"quantitative","scale":{"domain":[0,12],"nice":false},"axis":{"orient":"left","values":[0,2,4,6,8,10,12],"labelExpr":"datum.value<12?toString(datum.value):''","tickSize":-7,"labelPadding":15,"title":"Line-flux ratio","titlePadding":8}},
     "stroke":{"field":"ser","type":"nominal","scale":{"domain":["Hα/Hβ (SN2013L)","Hβ/Hγ (SN2013L)","Hα/Hβ (SN2010jl)","Hβ/Hγ (SN2010jl)"],"range":["#ff0000","#008000","#ff0000","#008000"]},"legend":{"title":null,"orient":"top-left","offset":9}}}},
   {"data":{"name":"rat"},"transform":[{"filter":"indexof(datum.ser,'2010jl')>=0"}],"mark":{"type":"line","strokeWidth":1,"clip":true,"opacity":0.75,"strokeDash":[9,5]},
    "encoding":{
     "x":{"field":"d","type":"quantitative","scale":{"type":"log","domain":[5,2000],"nice":false},"axis":null},
     "y":{"field":"r","type":"quantitative","scale":{"domain":[0,12],"nice":false},"axis":null},
     "stroke":{"field":"ser","type":"nominal","scale":{"domain":["Hα/Hβ (SN2013L)","Hβ/Hγ (SN2013L)","Hα/Hβ (SN2010jl)","Hβ/Hγ (SN2010jl)"],"range":["#ff0000","#008000","#ff0000","#008000"]},"legend":{"title":null,"orient":"top-left","offset":9}}}},
   {"data":{"name":"rat"},"mark":{"type":"point","size":45,"strokeWidth":1.1,"opacity":1,"clip":true},
    "encoding":{
     "x":{"field":"d","type":"quantitative","scale":{"type":"log","domain":[5,2000],"nice":false},"axis":null},
     "y":{"field":"r","type":"quantitative","scale":{"domain":[0,12],"nice":false},"axis":null},
     "shape":{"field":"ser","type":"nominal","scale":{"domain":["Hα/Hβ (SN2013L)","Hβ/Hγ (SN2013L)","Hα/Hβ (SN2010jl)","Hβ/Hγ (SN2010jl)"],"range":["square","triangle-up","square","triangle-up"]},"legend":{"title":null,"orient":"top-left","offset":9}},
     "fill":{"field":"ser","type":"nominal","scale":{"domain":["Hα/Hβ (SN2013L)","Hβ/Hγ (SN2013L)","Hα/Hβ (SN2010jl)","Hβ/Hγ (SN2010jl)"],"range":["#ff0000","#008000","transparent","transparent"]},"legend":{"title":null,"orient":"top-left","offset":9}},
     "stroke":{"field":"ser","type":"nominal","scale":{"domain":["Hα/Hβ (SN2013L)","Hβ/Hγ (SN2013L)","Hα/Hβ (SN2010jl)","Hβ/Hγ (SN2010jl)"],"range":["#ff0000","#008000","#ff0000","#008000"]},"legend":{"title":null,"orient":"top-left","offset":9}}}},
   {"data":{"values":[{"d":100,"r":1}]},"mark":{"type":"point","opacity":0},
    "encoding":{
     "x":{"field":"d","type":"quantitative","scale":{"type":"log","domain":[5,2000],"nice":false},"axis":{"orient":"top","values":[5,6,7,8,9,10,20,30,40,50,60,70,80,90,100,200,300,400,500,600,700,800,900,1000,2000],"labels":false,"title":null,"tickSize":{"condition":{"test":"abs(log(datum.value)/LN10-round(log(datum.value)/LN10))<0.001","value":-8},"value":-4}}},
     "y":{"field":"r","type":"quantitative","scale":{"domain":[0,12],"nice":false},"axis":{"orient":"right","values":[0,2,4,6,8,10,12],"labels":false,"title":null,"tickSize":-7}}}}
  ],
  "resolve":{"axis":{"x":"independent","y":"independent"}}
 }
],"spacing":0,"bounds":"flush",
 "resolve":{"scale":{"color":"independent","shape":"independent","fill":"independent","stroke":"independent"}}}
]
}
